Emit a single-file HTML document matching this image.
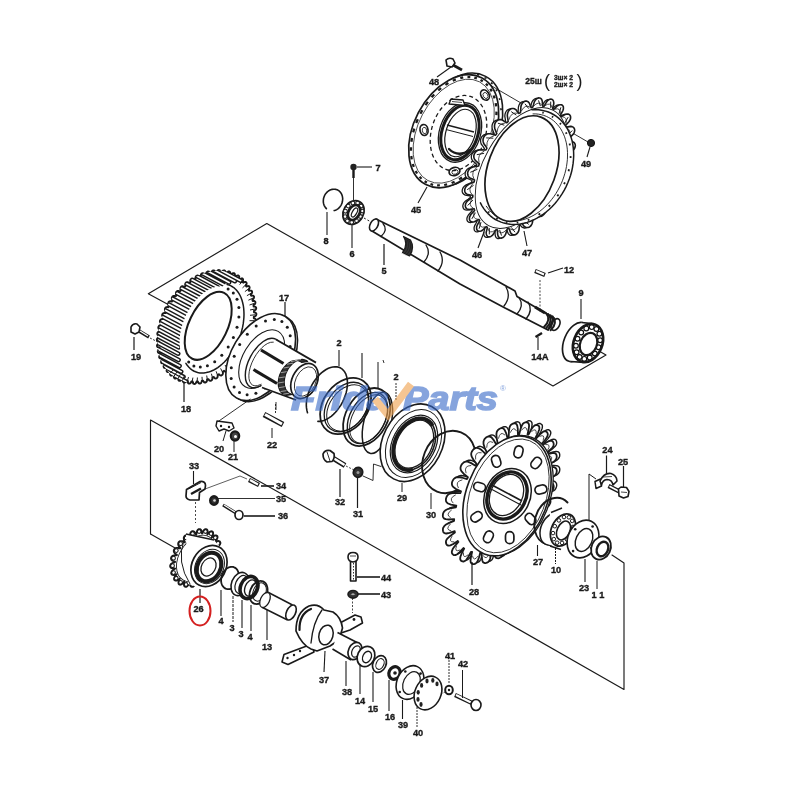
<!DOCTYPE html><html><head><meta charset="utf-8"><style>html,body{margin:0;padding:0;background:#fff}svg{display:block}text{font-family:"Liberation Sans",sans-serif}</style></head><body><div style="will-change:transform;width:800px;height:800px"><svg width="800" height="800" viewBox="0 0 800 800"><rect width="800" height="800" fill="#fff"/>
<polyline points="170.0,305.5 148.3,293.8 266.8,223.5 553.0,386.0 606.0,355.0 599.0,351.0" fill="none" stroke="#1a1a1a" stroke-width="1.15" stroke-linejoin="round" stroke-linecap="round"/>
<polyline points="150.5,534.0 150.5,420.0 291.5,499.5 624.0,689.5 624.0,563.0 612.0,555.0" fill="none" stroke="#1a1a1a" stroke-width="1.15" stroke-linejoin="round" stroke-linecap="round"/>
<line x1="150.5" y1="534.0" x2="176.0" y2="548.5" stroke="#1a1a1a" stroke-width="1.15"/>
<ellipse cx="457.7" cy="129.7" rx="39.9" ry="60.2" fill="#fff" stroke="#1a1a1a" stroke-width="1.6" transform="rotate(27.6 457.7 129.7)"/>
<line x1="477.0" y1="74.8" x2="479.2" y2="74.9" stroke="#1a1a1a" stroke-width="1.6"/>
<line x1="484.5" y1="77.7" x2="486.5" y2="78.2" stroke="#1a1a1a" stroke-width="1.6"/>
<line x1="490.9" y1="82.7" x2="492.6" y2="83.7" stroke="#1a1a1a" stroke-width="1.6"/>
<line x1="495.8" y1="89.7" x2="497.2" y2="91.0" stroke="#1a1a1a" stroke-width="1.6"/>
<line x1="499.1" y1="98.3" x2="500.1" y2="99.9" stroke="#1a1a1a" stroke-width="1.6"/>
<line x1="500.6" y1="108.3" x2="501.3" y2="110.1" stroke="#1a1a1a" stroke-width="1.6"/>
<line x1="500.4" y1="119.1" x2="500.7" y2="121.0" stroke="#1a1a1a" stroke-width="1.6"/>
<line x1="498.3" y1="130.4" x2="498.3" y2="132.3" stroke="#1a1a1a" stroke-width="1.6"/>
<line x1="494.5" y1="141.7" x2="494.1" y2="143.6" stroke="#1a1a1a" stroke-width="1.6"/>
<line x1="489.1" y1="152.5" x2="488.5" y2="154.3" stroke="#1a1a1a" stroke-width="1.6"/>
<line x1="482.4" y1="162.5" x2="481.5" y2="164.0" stroke="#1a1a1a" stroke-width="1.6"/>
<line x1="474.6" y1="171.1" x2="473.5" y2="172.4" stroke="#1a1a1a" stroke-width="1.6"/>
<line x1="466.0" y1="178.2" x2="464.9" y2="179.0" stroke="#1a1a1a" stroke-width="1.6"/>
<line x1="457.1" y1="183.3" x2="455.9" y2="183.7" stroke="#1a1a1a" stroke-width="1.6"/>
<ellipse cx="453.7" cy="131.2" rx="39.9" ry="60.2" fill="#fff" stroke="#1a1a1a" stroke-width="1.7" transform="rotate(27.6 453.7 131.2)"/>
<ellipse cx="453.7" cy="131.2" rx="35.4" ry="55.7" fill="none" stroke="#1a1a1a" stroke-width="0.7" transform="rotate(27.6 453.7 131.2)"/>
<line x1="487.0" y1="148.6" x2="485.1" y2="152.2" stroke="#1a1a1a" stroke-width="2.3"/>
<line x1="481.9" y1="157.3" x2="479.5" y2="160.5" stroke="#1a1a1a" stroke-width="2.3"/>
<line x1="475.8" y1="165.1" x2="473.2" y2="168.0" stroke="#1a1a1a" stroke-width="2.3"/>
<line x1="469.1" y1="171.9" x2="466.3" y2="174.3" stroke="#1a1a1a" stroke-width="2.3"/>
<line x1="462.0" y1="177.5" x2="459.0" y2="179.4" stroke="#1a1a1a" stroke-width="2.3"/>
<line x1="454.6" y1="181.7" x2="451.6" y2="183.0" stroke="#1a1a1a" stroke-width="2.3"/>
<line x1="447.1" y1="184.3" x2="444.2" y2="185.0" stroke="#1a1a1a" stroke-width="2.3"/>
<line x1="439.9" y1="185.4" x2="437.1" y2="185.3" stroke="#1a1a1a" stroke-width="2.3"/>
<line x1="433.1" y1="184.8" x2="430.5" y2="184.0" stroke="#1a1a1a" stroke-width="2.3"/>
<line x1="426.9" y1="182.5" x2="424.6" y2="181.2" stroke="#1a1a1a" stroke-width="2.3"/>
<line x1="421.5" y1="178.7" x2="419.6" y2="176.8" stroke="#1a1a1a" stroke-width="2.3"/>
<line x1="417.1" y1="173.5" x2="415.6" y2="171.0" stroke="#1a1a1a" stroke-width="2.3"/>
<line x1="413.8" y1="166.9" x2="412.8" y2="164.0" stroke="#1a1a1a" stroke-width="2.3"/>
<line x1="411.7" y1="159.3" x2="411.3" y2="156.0" stroke="#1a1a1a" stroke-width="2.3"/>
<line x1="410.9" y1="150.8" x2="411.0" y2="147.3" stroke="#1a1a1a" stroke-width="2.3"/>
<line x1="411.4" y1="141.8" x2="412.0" y2="138.0" stroke="#1a1a1a" stroke-width="2.3"/>
<line x1="413.2" y1="132.4" x2="414.3" y2="128.6" stroke="#1a1a1a" stroke-width="2.3"/>
<line x1="416.2" y1="123.0" x2="417.8" y2="119.2" stroke="#1a1a1a" stroke-width="2.3"/>
<line x1="420.4" y1="113.8" x2="422.3" y2="110.2" stroke="#1a1a1a" stroke-width="2.3"/>
<line x1="425.5" y1="105.1" x2="427.9" y2="101.9" stroke="#1a1a1a" stroke-width="2.3"/>
<line x1="431.6" y1="97.3" x2="434.2" y2="94.4" stroke="#1a1a1a" stroke-width="2.3"/>
<line x1="438.3" y1="90.5" x2="441.1" y2="88.1" stroke="#1a1a1a" stroke-width="2.3"/>
<line x1="445.4" y1="84.9" x2="448.4" y2="83.0" stroke="#1a1a1a" stroke-width="2.3"/>
<line x1="452.8" y1="80.7" x2="455.8" y2="79.4" stroke="#1a1a1a" stroke-width="2.3"/>
<line x1="460.3" y1="78.1" x2="463.2" y2="77.4" stroke="#1a1a1a" stroke-width="2.3"/>
<line x1="467.5" y1="77.0" x2="470.3" y2="77.1" stroke="#1a1a1a" stroke-width="2.3"/>
<line x1="474.3" y1="77.6" x2="476.9" y2="78.4" stroke="#1a1a1a" stroke-width="2.3"/>
<line x1="480.5" y1="79.9" x2="482.8" y2="81.2" stroke="#1a1a1a" stroke-width="2.3"/>
<line x1="485.9" y1="83.7" x2="487.8" y2="85.6" stroke="#1a1a1a" stroke-width="2.3"/>
<line x1="490.3" y1="88.9" x2="491.8" y2="91.4" stroke="#1a1a1a" stroke-width="2.3"/>
<line x1="493.6" y1="95.5" x2="494.6" y2="98.4" stroke="#1a1a1a" stroke-width="2.3"/>
<line x1="495.7" y1="103.1" x2="496.1" y2="106.4" stroke="#1a1a1a" stroke-width="2.3"/>
<line x1="496.5" y1="111.6" x2="496.4" y2="115.1" stroke="#1a1a1a" stroke-width="2.3"/>
<line x1="496.0" y1="120.6" x2="495.4" y2="124.4" stroke="#1a1a1a" stroke-width="2.3"/>
<line x1="494.2" y1="130.0" x2="493.1" y2="133.8" stroke="#1a1a1a" stroke-width="2.3"/>
<line x1="491.2" y1="139.4" x2="489.6" y2="143.2" stroke="#1a1a1a" stroke-width="2.3"/>
<ellipse cx="485.0" cy="95.0" rx="5.5" ry="4.0" fill="#fff" stroke="#1a1a1a" stroke-width="1.7" transform="rotate(60 485.0 95.0)"/>
<ellipse cx="485.5" cy="95.5" rx="3.2" ry="2.2" fill="none" stroke="#1a1a1a" stroke-width="0.8" transform="rotate(60 485.5 95.5)"/>
<ellipse cx="424.0" cy="130.0" rx="5.5" ry="4.0" fill="#fff" stroke="#1a1a1a" stroke-width="1.7" transform="rotate(80 424.0 130.0)"/>
<ellipse cx="424.5" cy="130.5" rx="3.2" ry="2.2" fill="none" stroke="#1a1a1a" stroke-width="0.8" transform="rotate(80 424.5 130.5)"/>
<ellipse cx="454.5" cy="171.5" rx="5.5" ry="4.0" fill="#fff" stroke="#1a1a1a" stroke-width="1.7" transform="rotate(-15 454.5 171.5)"/>
<ellipse cx="455.0" cy="172.0" rx="3.2" ry="2.2" fill="none" stroke="#1a1a1a" stroke-width="0.8" transform="rotate(-15 455.0 172.0)"/>
<ellipse cx="458.5" cy="133.0" rx="27.0" ry="38.5" fill="none" stroke="#1a1a1a" stroke-width="1.3" transform="rotate(18 458.5 133.0)" stroke-dasharray="4,3"/>
<ellipse cx="460.0" cy="132.5" rx="20.5" ry="30.5" fill="#fff" stroke="#1a1a1a" stroke-width="1.3" transform="rotate(18 460.0 132.5)"/>
<ellipse cx="460.0" cy="132.5" rx="18.0" ry="28.0" fill="#fff" stroke="#1a1a1a" stroke-width="3.0" transform="rotate(18 460.0 132.5)"/>
<ellipse cx="460.5" cy="133.0" rx="14.5" ry="24.5" fill="#fff" stroke="#1a1a1a" stroke-width="1.2" transform="rotate(18 460.5 133.0)"/>
<line x1="447.0" y1="125.0" x2="474.0" y2="132.0" stroke="#1a1a1a" stroke-width="1.3"/>
<line x1="446.0" y1="129.5" x2="473.0" y2="136.5" stroke="#1a1a1a" stroke-width="1.0"/>
<path d="M449,149 Q458,158 470,150" fill="none" stroke="#1a1a1a" stroke-width="2.4" stroke-linejoin="round" stroke-linecap="round"/>
<path d="M449,104 L451,99 L463,100 L465,105.5 Z" fill="#fff" stroke="#1a1a1a" stroke-width="1.4" stroke-linejoin="round" stroke-linecap="round"/>
<line x1="452.0" y1="101.5" x2="462.0" y2="102.5" stroke="#1a1a1a" stroke-width="0.8"/>
<path d="M446,60 Q449,57 453,59 L455,63 L452,67 L447,66 Z" fill="#fff" stroke="#1a1a1a" stroke-width="1.6" stroke-linejoin="round" stroke-linecap="round"/>
<line x1="453.0" y1="65.0" x2="462.0" y2="70.0" stroke="#1a1a1a" stroke-width="2.8"/>
<line x1="437.0" y1="77.0" x2="451.0" y2="67.0" stroke="#1a1a1a" stroke-width="1.1"/>
<text x="434.0" y="85.3" font-size="9.2" text-anchor="middle" font-weight="bold" fill="#1a1a1a" stroke="#1a1a1a" stroke-width="0.35">48</text>
<line x1="418.0" y1="203.0" x2="427.0" y2="187.0" stroke="#1a1a1a" stroke-width="1.1"/>
<text x="416.0" y="213.3" font-size="9.2" text-anchor="middle" font-weight="bold" fill="#1a1a1a" stroke="#1a1a1a" stroke-width="0.35">45</text>
<line x1="490.0" y1="85.0" x2="588.0" y2="142.0" stroke="#1a1a1a" stroke-width="0.9"/>
<polygon points="551.1,187.4 550.6,188.4 552.0,190.6 553.8,193.0 554.3,194.8 554.5,196.4 554.3,197.8 553.9,199.0 553.3,200.1 552.5,201.0 551.6,201.8 550.4,202.4 549.0,202.8 547.2,202.8 544.4,201.9 542.1,201.2 541.4,202.0 540.7,202.9 541.7,205.4 542.8,208.3 543.0,210.2 542.9,211.8 542.5,213.1 541.9,214.3 541.1,215.2 540.2,216.0 539.2,216.6 538.0,216.9 536.7,216.9 535.1,216.5 532.8,214.9 530.8,213.7 530.0,214.4 529.3,215.0 529.7,217.7 530.2,220.8 530.0,222.8 529.5,224.3 528.9,225.5 528.2,226.5 527.3,227.2 526.4,227.7 525.4,228.0 524.3,228.0 523.1,227.7 521.7,226.9 520.1,224.8 518.6,223.1 517.8,223.5 517.0,224.0 516.8,226.7 516.6,229.8 516.1,231.7 515.4,233.0 514.6,234.0 513.7,234.7 512.8,235.2 511.9,235.4 511.0,235.4 510.0,235.1 509.1,234.5 508.1,233.3 507.2,230.9 506.3,228.8 505.6,229.0 504.8,229.2 504.0,231.7 503.2,234.6 502.3,236.2 501.3,237.3 500.4,238.0 499.6,238.4 498.7,238.6 497.9,238.5 497.1,238.3 496.3,237.7 495.7,236.8 495.2,235.3 495.0,232.6 494.8,230.3 494.1,230.3 493.5,230.2 492.2,232.4 490.7,234.9 489.5,236.2 488.4,236.9 487.5,237.3 486.6,237.4 485.8,237.3 485.1,236.9 484.5,236.3 484.1,235.5 483.8,234.4 483.7,232.8 484.4,230.1 484.9,227.7 484.3,227.4 483.8,227.1 482.0,228.7 480.0,230.7 478.6,231.5 477.5,231.8 476.6,231.8 475.8,231.6 475.1,231.2 474.6,230.6 474.2,229.8 474.1,228.8 474.1,227.5 474.6,225.9 476.0,223.3 477.1,221.0 476.7,220.5 476.4,219.9 474.3,221.0 471.9,222.2 470.4,222.5 469.3,222.4 468.4,222.1 467.8,221.6 467.3,220.9 467.0,220.1 466.9,219.1 467.0,217.9 467.5,216.6 468.4,215.0 470.4,212.8 472.2,210.8 471.9,210.0 471.7,209.3 469.5,209.6 466.9,210.1 465.4,209.9 464.4,209.4 463.6,208.7 463.2,207.9 462.9,207.0 462.8,206.0 463.0,204.9 463.4,203.7 464.2,202.4 465.5,201.0 468.1,199.2 470.3,197.6 470.3,196.7 470.3,195.8 468.0,195.5 465.3,195.1 464.0,194.4 463.1,193.6 462.5,192.6 462.2,191.6 462.2,190.5 462.4,189.4 462.8,188.3 463.5,187.1 464.6,186.0 466.2,184.8 469.1,183.6 471.6,182.5 471.8,181.5 472.0,180.5 469.9,179.5 467.3,178.4 466.1,177.2 465.5,176.0 465.2,174.8 465.1,173.7 465.3,172.5 465.7,171.4 466.4,170.3 467.3,169.2 468.6,168.3 470.4,167.5 473.4,167.0 476.1,166.5 476.4,165.4 476.8,164.4 475.0,162.8 472.8,160.9 471.8,159.4 471.4,158.0 471.3,156.6 471.5,155.4 471.9,154.2 472.6,153.1 473.4,152.2 474.5,151.3 475.9,150.6 477.7,150.2 480.7,150.4 483.3,150.5 483.9,149.6 484.4,148.6 483.0,146.4 481.2,144.0 480.7,142.2 480.5,140.6 480.7,139.2 481.1,138.0 481.7,136.9 482.5,136.0 483.4,135.2 484.6,134.6 486.0,134.2 487.8,134.2 490.6,135.1 492.9,135.8 493.6,135.0 494.3,134.1 493.3,131.6 492.2,128.7 492.0,126.8 492.1,125.2 492.5,123.9 493.1,122.7 493.9,121.8 494.8,121.0 495.8,120.4 497.0,120.1 498.3,120.1 499.9,120.5 502.2,122.1 504.2,123.3 505.0,122.6 505.7,122.0 505.3,119.3 504.8,116.2 505.0,114.2 505.5,112.7 506.1,111.5 506.8,110.5 507.7,109.8 508.6,109.3 509.6,109.0 510.7,109.0 511.9,109.3 513.3,110.1 514.9,112.2 516.4,113.9 517.2,113.5 518.0,113.0 518.2,110.3 518.4,107.2 518.9,105.3 519.6,104.0 520.4,103.0 521.3,102.3 522.2,101.8 523.1,101.6 524.0,101.6 525.0,101.9 525.9,102.5 526.9,103.7 527.8,106.1 528.7,108.2 529.4,108.0 530.2,107.8 531.0,105.3 531.8,102.4 532.7,100.8 533.7,99.7 534.6,99.0 535.4,98.6 536.3,98.4 537.1,98.5 537.9,98.7 538.7,99.3 539.3,100.2 539.8,101.7 540.0,104.4 540.2,106.7 540.9,106.7 541.5,106.8 542.8,104.6 544.3,102.1 545.5,100.8 546.6,100.1 547.5,99.7 548.4,99.6 549.2,99.7 549.9,100.1 550.5,100.7 550.9,101.5 551.2,102.6 551.3,104.2 550.6,106.9 550.1,109.3 550.7,109.6 551.2,109.9 553.0,108.3 555.0,106.3 556.4,105.5 557.5,105.2 558.4,105.2 559.2,105.4 559.9,105.8 560.4,106.4 560.8,107.2 560.9,108.2 560.9,109.5 560.4,111.1 559.0,113.7 557.9,116.0 558.3,116.5 558.6,117.1 560.7,116.0 563.1,114.8 564.6,114.5 565.7,114.6 566.6,114.9 567.2,115.4 567.7,116.1 568.0,116.9 568.1,117.9 568.0,119.1 567.5,120.4 566.6,122.0 564.6,124.2 562.8,126.2 563.1,127.0 563.3,127.7 565.5,127.4 568.1,126.9 569.6,127.1 570.6,127.6 571.4,128.3 571.8,129.1 572.1,130.0 572.2,131.0 572.0,132.1 571.6,133.3 570.8,134.6 569.5,136.0 566.9,137.8 564.7,139.4 564.7,140.3 564.7,141.2 567.0,141.5 569.7,141.9 571.0,142.6 571.9,143.4 572.5,144.4 572.8,145.4 572.8,146.5 572.6,147.6 572.2,148.7 571.5,149.9 570.4,151.0 568.8,152.2 565.9,153.4 563.4,154.5 563.2,155.5 563.0,156.5 565.1,157.5 567.7,158.6 568.9,159.8 569.5,161.0 569.8,162.2 569.9,163.3 569.7,164.5 569.3,165.6 568.6,166.7 567.7,167.8 566.4,168.7 564.6,169.5 561.6,170.0 558.9,170.5 558.6,171.6 558.2,172.6 560.0,174.2 562.2,176.1 563.2,177.6 563.6,179.0 563.7,180.4 563.5,181.6 563.1,182.8 562.4,183.9 561.6,184.8 560.5,185.7 559.1,186.4 557.3,186.8 554.3,186.6 551.7,186.5 551.1,187.4" fill="#fff" stroke="#1a1a1a" stroke-width="1.3" stroke-linejoin="round" stroke-linecap="round"/>
<polygon points="553.6,186.9 553.1,187.9 554.5,190.1 556.3,192.5 556.8,194.3 557.0,195.9 556.8,197.3 556.4,198.5 555.8,199.6 555.0,200.5 554.1,201.3 552.9,201.9 551.5,202.3 549.7,202.3 546.9,201.4 544.6,200.7 543.9,201.5 543.2,202.4 544.2,204.9 545.3,207.8 545.5,209.7 545.4,211.3 545.0,212.6 544.4,213.8 543.6,214.7 542.7,215.5 541.7,216.1 540.5,216.4 539.2,216.4 537.6,216.0 535.3,214.4 533.3,213.2 532.5,213.9 531.8,214.5 532.2,217.2 532.7,220.3 532.5,222.3 532.0,223.8 531.4,225.0 530.7,226.0 529.8,226.7 528.9,227.2 527.9,227.5 526.8,227.5 525.6,227.2 524.2,226.4 522.6,224.3 521.1,222.6 520.3,223.0 519.5,223.5 519.3,226.2 519.1,229.3 518.6,231.2 517.9,232.5 517.1,233.5 516.2,234.2 515.3,234.7 514.4,234.9 513.5,234.9 512.5,234.6 511.6,234.0 510.6,232.8 509.7,230.4 508.8,228.3 508.1,228.5 507.3,228.7 506.5,231.2 505.7,234.1 504.8,235.7 503.8,236.8 502.9,237.5 502.1,237.9 501.2,238.1 500.4,238.0 499.6,237.8 498.8,237.2 498.2,236.3 497.7,234.8 497.5,232.1 497.3,229.8 496.6,229.8 496.0,229.7 494.7,231.9 493.2,234.4 492.0,235.7 490.9,236.4 490.0,236.8 489.1,236.9 488.3,236.8 487.6,236.4 487.0,235.8 486.6,235.0 486.3,233.9 486.2,232.3 486.9,229.6 487.4,227.2 486.8,226.9 486.3,226.6 484.5,228.2 482.5,230.2 481.1,231.0 480.0,231.3 479.1,231.3 478.3,231.1 477.6,230.7 477.1,230.1 476.7,229.3 476.6,228.3 476.6,227.0 477.1,225.4 478.5,222.8 479.6,220.5 479.2,220.0 478.9,219.4 476.8,220.5 474.4,221.7 472.9,222.0 471.8,221.9 470.9,221.6 470.3,221.1 469.8,220.4 469.5,219.6 469.4,218.6 469.5,217.4 470.0,216.1 470.9,214.5 472.9,212.3 474.7,210.3 474.4,209.5 474.2,208.8 472.0,209.1 469.4,209.6 467.9,209.4 466.9,208.9 466.1,208.2 465.7,207.4 465.4,206.5 465.3,205.5 465.5,204.4 465.9,203.2 466.7,201.9 468.0,200.5 470.6,198.7 472.8,197.1 472.8,196.2 472.8,195.3 470.5,195.0 467.8,194.6 466.5,193.9 465.6,193.1 465.0,192.1 464.7,191.1 464.7,190.0 464.9,188.9 465.3,187.8 466.0,186.6 467.1,185.5 468.7,184.3 471.6,183.1 474.1,182.0 474.3,181.0 474.5,180.0 472.4,179.0 469.8,177.9 468.6,176.7 468.0,175.5 467.7,174.3 467.6,173.2 467.8,172.0 468.2,170.9 468.9,169.8 469.8,168.7 471.1,167.8 472.9,167.0 475.9,166.5 478.6,166.0 478.9,164.9 479.3,163.9 477.5,162.3 475.3,160.4 474.3,158.9 473.9,157.5 473.8,156.1 474.0,154.9 474.4,153.7 475.1,152.6 475.9,151.7 477.0,150.8 478.4,150.1 480.2,149.7 483.2,149.9 485.8,150.0 486.4,149.1 486.9,148.1 485.5,145.9 483.7,143.5 483.2,141.7 483.0,140.1 483.2,138.7 483.6,137.5 484.2,136.4 485.0,135.5 485.9,134.7 487.1,134.1 488.5,133.7 490.3,133.7 493.1,134.6 495.4,135.3 496.1,134.5 496.8,133.6 495.8,131.1 494.7,128.2 494.5,126.3 494.6,124.7 495.0,123.4 495.6,122.2 496.4,121.3 497.3,120.5 498.3,119.9 499.5,119.6 500.8,119.6 502.4,120.0 504.7,121.6 506.7,122.8 507.5,122.1 508.2,121.5 507.8,118.8 507.3,115.7 507.5,113.7 508.0,112.2 508.6,111.0 509.3,110.0 510.2,109.3 511.1,108.8 512.1,108.5 513.2,108.5 514.4,108.8 515.8,109.6 517.4,111.7 518.9,113.4 519.7,113.0 520.5,112.5 520.7,109.8 520.9,106.7 521.4,104.8 522.1,103.5 522.9,102.5 523.8,101.8 524.7,101.3 525.6,101.1 526.5,101.1 527.5,101.4 528.4,102.0 529.4,103.2 530.3,105.6 531.2,107.7 531.9,107.5 532.7,107.3 533.5,104.8 534.3,101.9 535.2,100.3 536.2,99.2 537.1,98.5 537.9,98.1 538.8,97.9 539.6,98.0 540.4,98.2 541.2,98.8 541.8,99.7 542.3,101.2 542.5,103.9 542.7,106.2 543.4,106.2 544.0,106.3 545.3,104.1 546.8,101.6 548.0,100.3 549.1,99.6 550.0,99.2 550.9,99.1 551.7,99.2 552.4,99.6 553.0,100.2 553.4,101.0 553.7,102.1 553.8,103.7 553.1,106.4 552.6,108.8 553.2,109.1 553.7,109.4 555.5,107.8 557.5,105.8 558.9,105.0 560.0,104.7 560.9,104.7 561.7,104.9 562.4,105.3 562.9,105.9 563.3,106.7 563.4,107.7 563.4,109.0 562.9,110.6 561.5,113.2 560.4,115.5 560.8,116.0 561.1,116.6 563.2,115.5 565.6,114.3 567.1,114.0 568.2,114.1 569.1,114.4 569.7,114.9 570.2,115.6 570.5,116.4 570.6,117.4 570.5,118.6 570.0,119.9 569.1,121.5 567.1,123.7 565.3,125.7 565.6,126.5 565.8,127.2 568.0,126.9 570.6,126.4 572.1,126.6 573.1,127.1 573.9,127.8 574.3,128.6 574.6,129.5 574.7,130.5 574.5,131.6 574.1,132.8 573.3,134.1 572.0,135.5 569.4,137.3 567.2,138.9 567.2,139.8 567.2,140.7 569.5,141.0 572.2,141.4 573.5,142.1 574.4,142.9 575.0,143.9 575.3,144.9 575.3,146.0 575.1,147.1 574.7,148.2 574.0,149.4 572.9,150.5 571.3,151.7 568.4,152.9 565.9,154.0 565.7,155.0 565.5,156.0 567.6,157.0 570.2,158.1 571.4,159.3 572.0,160.5 572.3,161.7 572.4,162.8 572.2,164.0 571.8,165.1 571.1,166.2 570.2,167.3 568.9,168.2 567.1,169.0 564.1,169.5 561.4,170.0 561.1,171.1 560.7,172.1 562.5,173.7 564.7,175.6 565.7,177.1 566.1,178.5 566.2,179.9 566.0,181.1 565.6,182.3 564.9,183.4 564.1,184.3 563.0,185.2 561.6,185.9 559.8,186.3 556.8,186.1 554.2,186.0 553.6,186.9" fill="#fff" stroke="#1a1a1a" stroke-width="1.6" stroke-linejoin="round" stroke-linecap="round"/>
<line x1="553.8" y1="198.1" x2="546.7" y2="197.8" stroke="#1a1a1a" stroke-width="1.0"/>
<path d="M553.1,189.9 Q553.8,198.1 546.3,200.1" fill="none" stroke="#1a1a1a" stroke-width="0.8" stroke-linejoin="round" stroke-linecap="round"/>
<line x1="542.1" y1="212.8" x2="535.7" y2="210.8" stroke="#1a1a1a" stroke-width="1.0"/>
<path d="M542.9,204.4 Q542.1,212.8 534.9,213.0" fill="none" stroke="#1a1a1a" stroke-width="0.8" stroke-linejoin="round" stroke-linecap="round"/>
<line x1="528.8" y1="224.4" x2="523.7" y2="220.9" stroke="#1a1a1a" stroke-width="1.0"/>
<path d="M531.1,216.4 Q528.8,224.4 522.6,222.8" fill="none" stroke="#1a1a1a" stroke-width="0.8" stroke-linejoin="round" stroke-linecap="round"/>
<line x1="515.0" y1="232.2" x2="511.3" y2="227.4" stroke="#1a1a1a" stroke-width="1.0"/>
<path d="M518.6,225.1 Q515.0,232.2 510.0,228.9" fill="none" stroke="#1a1a1a" stroke-width="0.8" stroke-linejoin="round" stroke-linecap="round"/>
<line x1="501.5" y1="235.6" x2="499.6" y2="229.9" stroke="#1a1a1a" stroke-width="1.0"/>
<path d="M506.2,230.0 Q501.5,235.6 498.1,230.8" fill="none" stroke="#1a1a1a" stroke-width="0.8" stroke-linejoin="round" stroke-linecap="round"/>
<line x1="489.3" y1="234.4" x2="489.3" y2="228.1" stroke="#1a1a1a" stroke-width="1.0"/>
<path d="M494.7,230.6 Q489.3,234.4 487.8,228.5" fill="none" stroke="#1a1a1a" stroke-width="0.8" stroke-linejoin="round" stroke-linecap="round"/>
<line x1="479.1" y1="228.7" x2="481.0" y2="222.2" stroke="#1a1a1a" stroke-width="1.0"/>
<path d="M484.9,226.9 Q479.1,228.7 479.6,222.1" fill="none" stroke="#1a1a1a" stroke-width="0.8" stroke-linejoin="round" stroke-linecap="round"/>
<line x1="471.8" y1="218.9" x2="475.4" y2="212.7" stroke="#1a1a1a" stroke-width="1.0"/>
<path d="M477.6,219.3 Q471.8,218.9 474.2,211.9" fill="none" stroke="#1a1a1a" stroke-width="0.8" stroke-linejoin="round" stroke-linecap="round"/>
<line x1="467.7" y1="205.5" x2="472.9" y2="200.1" stroke="#1a1a1a" stroke-width="1.0"/>
<path d="M473.1,208.1 Q467.7,205.5 471.9,198.8" fill="none" stroke="#1a1a1a" stroke-width="0.8" stroke-linejoin="round" stroke-linecap="round"/>
<line x1="467.2" y1="189.7" x2="473.6" y2="185.3" stroke="#1a1a1a" stroke-width="1.0"/>
<path d="M471.8,194.2 Q467.2,189.7 472.8,183.6" fill="none" stroke="#1a1a1a" stroke-width="0.8" stroke-linejoin="round" stroke-linecap="round"/>
<line x1="470.3" y1="172.3" x2="477.4" y2="169.3" stroke="#1a1a1a" stroke-width="1.0"/>
<path d="M473.8,178.5 Q470.3,172.3 477.0,167.3" fill="none" stroke="#1a1a1a" stroke-width="0.8" stroke-linejoin="round" stroke-linecap="round"/>
<line x1="476.8" y1="154.7" x2="484.1" y2="153.3" stroke="#1a1a1a" stroke-width="1.0"/>
<path d="M479.0,162.1 Q476.8,154.7 484.2,151.0" fill="none" stroke="#1a1a1a" stroke-width="0.8" stroke-linejoin="round" stroke-linecap="round"/>
<line x1="486.2" y1="137.9" x2="493.3" y2="138.2" stroke="#1a1a1a" stroke-width="1.0"/>
<path d="M486.9,146.1 Q486.2,137.9 493.7,135.9" fill="none" stroke="#1a1a1a" stroke-width="0.8" stroke-linejoin="round" stroke-linecap="round"/>
<line x1="497.9" y1="123.2" x2="504.3" y2="125.2" stroke="#1a1a1a" stroke-width="1.0"/>
<path d="M497.1,131.6 Q497.9,123.2 505.1,123.0" fill="none" stroke="#1a1a1a" stroke-width="0.8" stroke-linejoin="round" stroke-linecap="round"/>
<line x1="511.2" y1="111.6" x2="516.3" y2="115.1" stroke="#1a1a1a" stroke-width="1.0"/>
<path d="M508.9,119.6 Q511.2,111.6 517.4,113.2" fill="none" stroke="#1a1a1a" stroke-width="0.8" stroke-linejoin="round" stroke-linecap="round"/>
<line x1="525.0" y1="103.8" x2="528.7" y2="108.6" stroke="#1a1a1a" stroke-width="1.0"/>
<path d="M521.4,110.9 Q525.0,103.8 530.0,107.1" fill="none" stroke="#1a1a1a" stroke-width="0.8" stroke-linejoin="round" stroke-linecap="round"/>
<line x1="538.5" y1="100.4" x2="540.4" y2="106.1" stroke="#1a1a1a" stroke-width="1.0"/>
<path d="M533.8,106.0 Q538.5,100.4 541.9,105.2" fill="none" stroke="#1a1a1a" stroke-width="0.8" stroke-linejoin="round" stroke-linecap="round"/>
<line x1="550.7" y1="101.6" x2="550.7" y2="107.9" stroke="#1a1a1a" stroke-width="1.0"/>
<path d="M545.3,105.4 Q550.7,101.6 552.2,107.5" fill="none" stroke="#1a1a1a" stroke-width="0.8" stroke-linejoin="round" stroke-linecap="round"/>
<line x1="560.9" y1="107.3" x2="559.0" y2="113.8" stroke="#1a1a1a" stroke-width="1.0"/>
<path d="M555.1,109.1 Q560.9,107.3 560.4,113.9" fill="none" stroke="#1a1a1a" stroke-width="0.8" stroke-linejoin="round" stroke-linecap="round"/>
<line x1="568.2" y1="117.1" x2="564.6" y2="123.3" stroke="#1a1a1a" stroke-width="1.0"/>
<path d="M562.4,116.7 Q568.2,117.1 565.8,124.1" fill="none" stroke="#1a1a1a" stroke-width="0.8" stroke-linejoin="round" stroke-linecap="round"/>
<line x1="572.3" y1="130.5" x2="567.1" y2="135.9" stroke="#1a1a1a" stroke-width="1.0"/>
<path d="M566.9,127.9 Q572.3,130.5 568.1,137.2" fill="none" stroke="#1a1a1a" stroke-width="0.8" stroke-linejoin="round" stroke-linecap="round"/>
<line x1="572.8" y1="146.3" x2="566.4" y2="150.7" stroke="#1a1a1a" stroke-width="1.0"/>
<path d="M568.2,141.8 Q572.8,146.3 567.2,152.4" fill="none" stroke="#1a1a1a" stroke-width="0.8" stroke-linejoin="round" stroke-linecap="round"/>
<line x1="569.7" y1="163.7" x2="562.6" y2="166.7" stroke="#1a1a1a" stroke-width="1.0"/>
<path d="M566.2,157.5 Q569.7,163.7 563.0,168.7" fill="none" stroke="#1a1a1a" stroke-width="0.8" stroke-linejoin="round" stroke-linecap="round"/>
<line x1="563.2" y1="181.3" x2="555.9" y2="182.7" stroke="#1a1a1a" stroke-width="1.0"/>
<path d="M561.0,173.9 Q563.2,181.3 555.8,185.0" fill="none" stroke="#1a1a1a" stroke-width="0.8" stroke-linejoin="round" stroke-linecap="round"/>
<ellipse cx="521.0" cy="168.0" rx="37.1" ry="66.1" fill="none" stroke="#1a1a1a" stroke-width="0.9" transform="rotate(29.4 521.0 168.0)"/>
<path d="M531.9,109.7 L535.2,109.6 L538.4,109.8 L541.6,110.2 L544.7,110.9 L547.7,111.8 L550.7,113.0 L553.4,114.5 L556.1,116.2 L558.6,118.1 L560.9,120.3 L563.1,122.7 L565.1,125.3 L566.9,128.0 L568.5,131.0 L569.9,134.2 L571.1,137.4 L572.1,140.9 L572.8,144.4 L573.3,148.1 L573.6,151.8 L573.7,155.6 L573.5,159.5 L573.1,163.4 L572.5,167.3 L571.7,171.3 L570.6,175.2 L569.3,179.0 L567.8,182.8 L566.1,186.6 L564.3,190.2 L562.2,193.7 L559.9,197.1 L557.5,200.4 L555.0,203.5 L552.2,206.5 L549.4,209.2 L546.4,211.8 L543.4,214.1 L540.2,216.2 L537.0,218.1 L533.7,219.8 L530.4,221.2 L527.1,222.4 L523.7,223.3 L520.3,223.9 L517.0,224.3 L513.7,224.4 L510.4,224.2 L507.2,223.8 L504.1,223.1 L501.1,222.1 L498.2,220.9 L495.4,219.5 L492.8,217.8 L490.3,215.8 L488.0,213.6 L485.8,211.2 L483.8,208.6 L482.0,205.8 L480.4,202.9 Z" fill="#fff" stroke="none"/>
<polyline points="531.9,109.7 535.2,109.6 538.4,109.8 541.6,110.2 544.7,110.9 547.7,111.8 550.7,113.0 553.4,114.5 556.1,116.2 558.6,118.1 560.9,120.3 563.1,122.7 565.1,125.3 566.9,128.0 568.5,131.0 569.9,134.2 571.1,137.4 572.1,140.9 572.8,144.4 573.3,148.1 573.6,151.8 573.7,155.6 573.5,159.5 573.1,163.4 572.5,167.3 571.7,171.3 570.6,175.2 569.3,179.0 567.8,182.8 566.1,186.6 564.3,190.2 562.2,193.7 559.9,197.1 557.5,200.4 555.0,203.5 552.2,206.5 549.4,209.2 546.4,211.8 543.4,214.1 540.2,216.2 537.0,218.1 533.7,219.8 530.4,221.2 527.1,222.4 523.7,223.3 520.3,223.9 517.0,224.3 513.7,224.4 510.4,224.2 507.2,223.8 504.1,223.1 501.1,222.1 498.2,220.9 495.4,219.5 492.8,217.8 490.3,215.8 488.0,213.6 485.8,211.2 483.8,208.6 482.0,205.8 480.4,202.9" fill="none" stroke="#1a1a1a" stroke-width="1.5" stroke-linejoin="round" stroke-linecap="round"/>
<polyline points="533.0,113.9 535.8,113.9 538.6,114.2 541.2,114.7 543.8,115.4 546.4,116.4 548.8,117.6 551.1,118.9 553.3,120.5 555.3,122.3 557.2,124.3 559.0,126.5 560.7,128.8 562.1,131.3 563.4,134.0 564.6,136.8 565.5,139.8 566.3,142.8 566.9,146.0 567.3,149.2 567.5,152.6 567.5,156.0 567.4,159.4 567.0,162.9 566.5,166.4 565.8,169.9 564.9,173.4 563.8,176.9 562.6,180.3 561.2,183.7 559.6,187.0 557.9,190.2 556.0,193.4 554.0,196.4 551.8,199.3 549.6,202.0 547.2,204.7 544.7,207.1 542.1,209.4 539.5,211.5 536.8,213.4 534.0,215.1 531.2,216.6 528.3,217.9 525.4,219.0 522.5,219.9 519.7,220.5 516.8,220.9 514.0,221.1 511.2,221.1 508.4,220.8 505.8,220.3 503.2,219.6 500.6,218.6 498.2,217.4 495.9,216.1 493.7,214.5 491.7,212.7 489.8,210.7 488.0,208.5 486.3,206.2" fill="none" stroke="#1a1a1a" stroke-width="0.9" stroke-linejoin="round" stroke-linecap="round"/>
<line x1="542.3" y1="112.6" x2="543.7" y2="112.9" stroke="#1a1a1a" stroke-width="1.8"/>
<line x1="551.9" y1="116.4" x2="553.2" y2="117.2" stroke="#1a1a1a" stroke-width="1.8"/>
<line x1="559.9" y1="123.1" x2="560.9" y2="124.3" stroke="#1a1a1a" stroke-width="1.8"/>
<line x1="565.9" y1="132.3" x2="566.6" y2="133.9" stroke="#1a1a1a" stroke-width="1.8"/>
<line x1="569.6" y1="143.5" x2="569.9" y2="145.3" stroke="#1a1a1a" stroke-width="1.8"/>
<line x1="570.6" y1="156.1" x2="570.6" y2="158.0" stroke="#1a1a1a" stroke-width="1.8"/>
<line x1="569.0" y1="169.2" x2="568.6" y2="171.2" stroke="#1a1a1a" stroke-width="1.8"/>
<line x1="564.9" y1="182.3" x2="564.1" y2="184.1" stroke="#1a1a1a" stroke-width="1.8"/>
<line x1="558.5" y1="194.5" x2="557.3" y2="196.1" stroke="#1a1a1a" stroke-width="1.8"/>
<line x1="550.1" y1="205.1" x2="548.7" y2="206.5" stroke="#1a1a1a" stroke-width="1.8"/>
<line x1="540.2" y1="213.6" x2="538.6" y2="214.7" stroke="#1a1a1a" stroke-width="1.8"/>
<line x1="529.4" y1="219.5" x2="527.8" y2="220.1" stroke="#1a1a1a" stroke-width="1.8"/>
<line x1="518.3" y1="222.4" x2="516.7" y2="222.6" stroke="#1a1a1a" stroke-width="1.8"/>
<line x1="507.5" y1="222.2" x2="506.0" y2="221.9" stroke="#1a1a1a" stroke-width="1.8"/>
<line x1="497.7" y1="218.9" x2="496.3" y2="218.1" stroke="#1a1a1a" stroke-width="1.8"/>
<line x1="489.3" y1="212.6" x2="488.3" y2="211.5" stroke="#1a1a1a" stroke-width="1.8"/>
<ellipse cx="522.0" cy="168.6" rx="33.9" ry="54.8" fill="#fff" stroke="#1a1a1a" stroke-width="1.7" transform="rotate(20.2 522.0 168.6)"/>
<circle cx="591" cy="143" r="3.6" fill="#222" stroke="#111" stroke-width="1"/>
<line x1="590.0" y1="147.0" x2="587.0" y2="157.0" stroke="#1a1a1a" stroke-width="1.1"/>
<text x="586.0" y="167.3" font-size="9.2" text-anchor="middle" font-weight="bold" fill="#1a1a1a" stroke="#1a1a1a" stroke-width="0.35">49</text>
<line x1="478.0" y1="248.0" x2="484.0" y2="232.0" stroke="#1a1a1a" stroke-width="1.1"/>
<text x="477.0" y="258.3" font-size="9.2" text-anchor="middle" font-weight="bold" fill="#1a1a1a" stroke="#1a1a1a" stroke-width="0.35">46</text>
<line x1="527.0" y1="246.0" x2="524.0" y2="231.0" stroke="#1a1a1a" stroke-width="1.1"/>
<text x="527.0" y="256.3" font-size="9.2" text-anchor="middle" font-weight="bold" fill="#1a1a1a" stroke="#1a1a1a" stroke-width="0.35">47</text>
<text x="533.5" y="84.0" font-size="8.5" text-anchor="middle" font-weight="bold" fill="#1a1a1a" stroke="#1a1a1a" stroke-width="0.35">25ш</text>
<text x="563.5" y="79.5" font-size="6.8" text-anchor="middle" font-weight="bold" fill="#1a1a1a" stroke="#1a1a1a" stroke-width="0.35">3ш× 2</text>
<text x="563.5" y="87.0" font-size="6.8" text-anchor="middle" font-weight="bold" fill="#1a1a1a" stroke="#1a1a1a" stroke-width="0.35">2ш× 2</text>
<text x="544" y="86.5" font-size="18" font-weight="normal" fill="#1a1a1a">(</text>
<text x="576.5" y="86.5" font-size="18" font-weight="normal" fill="#1a1a1a">)</text>
<circle cx="353.5" cy="167" r="3.2" fill="#222"/>
<line x1="353.5" y1="170.0" x2="353.5" y2="178.0" stroke="#1a1a1a" stroke-width="2.4"/>
<line x1="357.0" y1="167.0" x2="372.0" y2="167.0" stroke="#1a1a1a" stroke-width="1.1"/>
<text x="378.0" y="171.3" font-size="9.2" text-anchor="middle" font-weight="bold" fill="#1a1a1a" stroke="#1a1a1a" stroke-width="0.35">7</text>
<line x1="353.5" y1="178.0" x2="353.5" y2="200.0" stroke="#1a1a1a" stroke-width="0.9"/>
<ellipse cx="353.5" cy="212.5" rx="10.0" ry="12.5" fill="#fff" stroke="#1a1a1a" stroke-width="1.8" transform="rotate(30 353.5 212.5)"/>
<circle cx="360.4" cy="216.5" r="1.9" fill="#fff" stroke="#1a1a1a" stroke-width="1.1"/>
<circle cx="356.5" cy="220.7" r="1.9" fill="#fff" stroke="#1a1a1a" stroke-width="1.1"/>
<circle cx="351.7" cy="222.3" r="1.9" fill="#fff" stroke="#1a1a1a" stroke-width="1.1"/>
<circle cx="347.4" cy="220.8" r="1.9" fill="#fff" stroke="#1a1a1a" stroke-width="1.1"/>
<circle cx="345.1" cy="216.6" r="1.9" fill="#fff" stroke="#1a1a1a" stroke-width="1.1"/>
<circle cx="345.4" cy="211.2" r="1.9" fill="#fff" stroke="#1a1a1a" stroke-width="1.1"/>
<circle cx="348.3" cy="206.1" r="1.9" fill="#fff" stroke="#1a1a1a" stroke-width="1.1"/>
<circle cx="352.9" cy="203.1" r="1.9" fill="#fff" stroke="#1a1a1a" stroke-width="1.1"/>
<circle cx="357.6" cy="203.1" r="1.9" fill="#fff" stroke="#1a1a1a" stroke-width="1.1"/>
<circle cx="361.1" cy="206.0" r="1.9" fill="#fff" stroke="#1a1a1a" stroke-width="1.1"/>
<circle cx="362.1" cy="211.0" r="1.9" fill="#fff" stroke="#1a1a1a" stroke-width="1.1"/>
<ellipse cx="354.0" cy="212.5" rx="5.5" ry="8.0" fill="#fff" stroke="#1a1a1a" stroke-width="2.6" transform="rotate(30 354.0 212.5)"/>
<ellipse cx="354.5" cy="212.5" rx="2.2" ry="5.0" fill="#fff" stroke="#1a1a1a" stroke-width="1.2" transform="rotate(30 354.5 212.5)"/>
<line x1="352.0" y1="225.0" x2="352.0" y2="248.0" stroke="#1a1a1a" stroke-width="1.1"/>
<text x="352.0" y="257.3" font-size="9.2" text-anchor="middle" font-weight="bold" fill="#1a1a1a" stroke="#1a1a1a" stroke-width="0.35">6</text>
<polyline points="326.4,208.6 325.5,207.6 324.8,206.5 324.1,205.3 323.7,204.0 323.4,202.6 323.3,201.1 323.4,199.7 323.6,198.2 324.1,196.8 324.6,195.4 325.4,194.1 326.3,193.0 327.3,191.9 328.4,191.0 329.5,190.3 330.8,189.7 332.1,189.4 333.4,189.2 334.7,189.2 336.0,189.4 337.2,189.8 338.3,190.4 339.4,191.2 340.3,192.1 341.1,193.2 341.7,194.4 342.2,195.7 342.5,197.1 342.7,198.5 342.6,200.0 342.4,201.5 342.1,202.9 341.5,204.3 340.8,205.6 340.0,206.8 339.0,207.9 337.9,208.8 336.7,209.6 335.5,210.2 334.2,210.6" fill="none" stroke="#1a1a1a" stroke-width="1.6" stroke-linejoin="round" stroke-linecap="round"/>
<line x1="327.0" y1="212.0" x2="327.0" y2="235.0" stroke="#1a1a1a" stroke-width="1.1"/>
<text x="326.0" y="244.3" font-size="9.2" text-anchor="middle" font-weight="bold" fill="#1a1a1a" stroke="#1a1a1a" stroke-width="0.35">8</text>
<line x1="364.0" y1="218.0" x2="371.0" y2="222.0" stroke="#1a1a1a" stroke-width="1.0" stroke-dasharray="2,2"/>
<polygon points="376.0,219.0 460.0,260.0 515.0,291.0 517.0,296.5 554.0,318.0 548.0,330.0 505.0,308.0 460.0,284.0 372.0,231.0" fill="#fff" stroke="#1a1a1a" stroke-width="1.7" stroke-linejoin="round" stroke-linecap="round"/>
<ellipse cx="374.0" cy="225.0" rx="3.8" ry="6.5" fill="#fff" stroke="#1a1a1a" stroke-width="1.6" transform="rotate(28.5 374.0 225.0)"/>
<ellipse cx="555.5" cy="324.5" rx="4.0" ry="6.3" fill="#fff" stroke="#1a1a1a" stroke-width="1.6" transform="rotate(28.5 555.5 324.5)"/>
<path d="M383.0,223.5 Q388.5,230.0 381.0,236.5" fill="none" stroke="#1a1a1a" stroke-width="1.3" stroke-linejoin="round" stroke-linecap="round"/>
<path d="M426.0,245.0 Q431.5,253.5 424.0,262.0" fill="none" stroke="#1a1a1a" stroke-width="1.3" stroke-linejoin="round" stroke-linecap="round"/>
<path d="M440.0,252.0 Q445.5,261.5 438.0,271.0" fill="none" stroke="#1a1a1a" stroke-width="1.3" stroke-linejoin="round" stroke-linecap="round"/>
<path d="M506.0,287.0 Q511.5,296.5 504.0,306.0" fill="none" stroke="#1a1a1a" stroke-width="1.3" stroke-linejoin="round" stroke-linecap="round"/>
<path d="M519.0,297.5 Q524.5,305.8 517.0,314.0" fill="none" stroke="#1a1a1a" stroke-width="1.3" stroke-linejoin="round" stroke-linecap="round"/>
<path d="M528.0,302.0 Q533.5,310.5 526.0,319.0" fill="none" stroke="#1a1a1a" stroke-width="1.3" stroke-linejoin="round" stroke-linecap="round"/>
<path d="M403.5,236.5 Q408.5,244.5 402.5,252.5 L409.5,256 Q415,248 410.5,240 Z" fill="#333" stroke="#1a1a1a" stroke-width="1.2" stroke-linejoin="round" stroke-linecap="round"/>
<path d="M404.5,237.5 Q410.0,245.2 402.5,253.0" fill="none" stroke="#1a1a1a" stroke-width="0.7" stroke-linejoin="round" stroke-linecap="round"/>
<path d="M406.5,238.5 Q412.0,246.2 404.5,254.0" fill="none" stroke="#1a1a1a" stroke-width="0.7" stroke-linejoin="round" stroke-linecap="round"/>
<path d="M408.5,239.5 Q414.0,247.2 406.5,255.0" fill="none" stroke="#1a1a1a" stroke-width="0.7" stroke-linejoin="round" stroke-linecap="round"/>
<line x1="535.0" y1="307.0" x2="545.0" y2="313.0" stroke="#1a1a1a" stroke-width="3.0"/>
<path d="M546.0,313.0 Q551.5,320.0 544.0,327.0" fill="none" stroke="#1a1a1a" stroke-width="2.0" stroke-linejoin="round" stroke-linecap="round"/>
<path d="M548.2,314.1 Q553.7,321.1 546.2,328.1" fill="none" stroke="#1a1a1a" stroke-width="2.0" stroke-linejoin="round" stroke-linecap="round"/>
<path d="M550.4,315.2 Q555.9,322.2 548.4,329.2" fill="none" stroke="#1a1a1a" stroke-width="2.0" stroke-linejoin="round" stroke-linecap="round"/>
<path d="M552.6,316.3 Q558.1,323.3 550.6,330.3" fill="none" stroke="#1a1a1a" stroke-width="2.0" stroke-linejoin="round" stroke-linecap="round"/>
<line x1="384.0" y1="244.0" x2="384.0" y2="265.0" stroke="#1a1a1a" stroke-width="1.2"/>
<text x="384.0" y="274.3" font-size="9.2" text-anchor="middle" font-weight="bold" fill="#1a1a1a" stroke="#1a1a1a" stroke-width="0.35">5</text>
<line x1="535.0" y1="271.0" x2="545.0" y2="275.0" stroke="#1a1a1a" stroke-width="4.2"/>
<line x1="536.0" y1="271.0" x2="544.0" y2="274.5" stroke="#fff" stroke-width="2.0"/>
<line x1="548.0" y1="273.0" x2="563.0" y2="268.0" stroke="#1a1a1a" stroke-width="1.1"/>
<text x="569.0" y="273.3" font-size="9.2" text-anchor="middle" font-weight="bold" fill="#1a1a1a" stroke="#1a1a1a" stroke-width="0.35">12</text>
<line x1="540.0" y1="280.0" x2="540.0" y2="312.0" stroke="#1a1a1a" stroke-width="0.8" stroke-dasharray="2,1.5"/>
<line x1="535.5" y1="337.0" x2="542.0" y2="333.0" stroke="#1a1a1a" stroke-width="2.4"/>
<line x1="538.0" y1="337.0" x2="538.0" y2="350.0" stroke="#1a1a1a" stroke-width="1.1"/>
<text x="540.0" y="360.4" font-size="9.5" text-anchor="middle" font-weight="bold" fill="#1a1a1a" stroke="#1a1a1a" stroke-width="0.35">14A</text>
<line x1="581.0" y1="299.0" x2="581.0" y2="319.0" stroke="#1a1a1a" stroke-width="1.1"/>
<text x="581.0" y="296.3" font-size="9.2" text-anchor="middle" font-weight="bold" fill="#1a1a1a" stroke="#1a1a1a" stroke-width="0.35">9</text>
<ellipse cx="576.0" cy="342.0" rx="12.0" ry="20.5" fill="#fff" stroke="#1a1a1a" stroke-width="1.7" transform="rotate(22 576.0 342.0)"/>
<polygon points="570.4,361.5 583.7,362.3 592.3,323.7 581.6,322.5" fill="#fff" stroke="none" stroke-width="0" stroke-linejoin="round" stroke-linecap="round"/>
<line x1="570.4" y1="361.5" x2="583.7" y2="362.3" stroke="#1a1a1a" stroke-width="1.7"/>
<line x1="581.6" y1="322.5" x2="592.3" y2="323.7" stroke="#1a1a1a" stroke-width="1.7"/>
<ellipse cx="588.0" cy="343.0" rx="14.5" ry="20.0" fill="#fff" stroke="#1a1a1a" stroke-width="2.2" transform="rotate(22 588.0 343.0)"/>
<circle cx="598.5" cy="347.2" r="2.4" fill="#fff" stroke="#111" stroke-width="1.2"/>
<circle cx="594.8" cy="353.5" r="2.4" fill="#fff" stroke="#111" stroke-width="1.2"/>
<circle cx="589.7" cy="357.6" r="2.4" fill="#fff" stroke="#111" stroke-width="1.2"/>
<circle cx="584.3" cy="358.9" r="2.4" fill="#fff" stroke="#111" stroke-width="1.2"/>
<circle cx="579.6" cy="357.0" r="2.4" fill="#fff" stroke="#111" stroke-width="1.2"/>
<circle cx="576.6" cy="352.3" r="2.4" fill="#fff" stroke="#111" stroke-width="1.2"/>
<circle cx="575.9" cy="345.8" r="2.4" fill="#fff" stroke="#111" stroke-width="1.2"/>
<circle cx="577.5" cy="338.8" r="2.4" fill="#fff" stroke="#111" stroke-width="1.2"/>
<circle cx="581.2" cy="332.5" r="2.4" fill="#fff" stroke="#111" stroke-width="1.2"/>
<circle cx="586.3" cy="328.4" r="2.4" fill="#fff" stroke="#111" stroke-width="1.2"/>
<circle cx="591.7" cy="327.1" r="2.4" fill="#fff" stroke="#111" stroke-width="1.2"/>
<circle cx="596.4" cy="329.0" r="2.4" fill="#fff" stroke="#111" stroke-width="1.2"/>
<circle cx="599.4" cy="333.7" r="2.4" fill="#fff" stroke="#111" stroke-width="1.2"/>
<circle cx="600.1" cy="340.2" r="2.4" fill="#fff" stroke="#111" stroke-width="1.2"/>
<ellipse cx="588.0" cy="343.0" rx="13.5" ry="19.0" fill="none" stroke="#1a1a1a" stroke-width="1.0" transform="rotate(22 588.0 343.0)"/>
<ellipse cx="588.5" cy="344.0" rx="8.3" ry="11.5" fill="#fff" stroke="#1a1a1a" stroke-width="2.2" transform="rotate(22 588.5 344.0)"/>
<path d="M131,327 Q133,323 137,324 L140,327 L139,332 L135,334 L131,332 Z" fill="#fff" stroke="#1a1a1a" stroke-width="1.6" stroke-linejoin="round" stroke-linecap="round"/>
<line x1="139.0" y1="331.0" x2="149.0" y2="337.0" stroke="#1a1a1a" stroke-width="3.4"/>
<line x1="140.0" y1="331.0" x2="148.0" y2="336.0" stroke="#fff" stroke-width="1.2"/>
<line x1="150.0" y1="338.0" x2="158.0" y2="342.0" stroke="#1a1a1a" stroke-width="0.9" stroke-dasharray="2,1.5"/>
<line x1="134.0" y1="337.0" x2="134.0" y2="350.0" stroke="#1a1a1a" stroke-width="1.2"/>
<text x="136.0" y="360.3" font-size="9.2" text-anchor="middle" font-weight="bold" fill="#1a1a1a" stroke="#1a1a1a" stroke-width="0.35">19</text>
<clipPath id="g18"><ellipse cx="206.6" cy="327" rx="44.6" ry="59.7" transform="rotate(30.7 206.6 327)"/></clipPath>
<polygon points="245.0,349.8 245.1,350.3 245.1,350.8 244.9,351.2 244.8,351.6 244.5,352.0 244.2,352.3 243.8,352.5 243.2,352.7 242.5,352.7 241.4,352.4 241.2,352.7 240.9,353.1 240.7,353.4 240.5,353.7 241.1,354.7 241.4,355.4 241.4,356.0 241.3,356.4 241.2,356.9 240.9,357.2 240.7,357.5 240.3,357.8 239.9,358.0 239.4,358.1 238.7,358.0 237.6,357.6 237.3,358.0 237.1,358.3 236.8,358.6 236.6,358.9 237.1,360.0 237.3,360.7 237.2,361.2 237.1,361.7 236.9,362.1 236.7,362.4 236.4,362.7 236.0,362.9 235.6,363.1 235.1,363.1 234.4,363.0 233.4,362.5 233.1,362.8 232.8,363.1 232.5,363.4 232.3,363.7 232.7,364.8 232.8,365.5 232.7,366.1 232.6,366.5 232.3,366.9 232.1,367.2 231.7,367.5 231.4,367.6 230.9,367.7 230.4,367.7 229.8,367.5 228.8,366.9 228.5,367.2 228.2,367.4 227.9,367.7 227.6,368.0 227.9,369.1 228.0,369.9 227.9,370.4 227.7,370.8 227.4,371.2 227.1,371.5 226.8,371.7 226.4,371.8 226.0,371.9 225.5,371.8 224.8,371.5 224.0,370.8 223.7,371.1 223.4,371.3 223.1,371.5 222.8,371.7 222.9,372.9 222.9,373.7 222.7,374.2 222.5,374.6 222.2,374.9 221.9,375.2 221.5,375.4 221.2,375.5 220.7,375.5 220.3,375.3 219.7,375.0 218.9,374.2 218.6,374.4 218.3,374.6 218.0,374.8 217.7,375.0 217.7,376.1 217.6,376.9 217.4,377.4 217.1,377.8 216.8,378.1 216.5,378.3 216.1,378.4 215.8,378.5 215.4,378.4 214.9,378.3 214.4,377.8 213.7,377.0 213.4,377.1 213.1,377.3 212.8,377.4 212.4,377.6 212.4,378.8 212.2,379.5 211.9,380.0 211.6,380.3 211.3,380.6 211.0,380.7 210.6,380.8 210.2,380.8 209.9,380.7 209.4,380.5 209.0,380.1 208.5,379.1 208.1,379.2 207.8,379.3 207.5,379.4 207.1,379.5 206.9,380.7 206.7,381.4 206.4,381.9 206.1,382.2 205.7,382.4 205.4,382.5 205.0,382.6 204.7,382.5 204.3,382.4 203.9,382.1 203.6,381.6 203.1,380.6 202.8,380.7 202.5,380.7 202.1,380.8 201.8,380.9 201.5,382.0 201.2,382.7 200.9,383.1 200.5,383.3 200.2,383.5 199.8,383.6 199.5,383.6 199.1,383.5 198.8,383.3 198.5,383.0 198.2,382.5 197.9,381.4 197.5,381.4 197.2,381.5 196.9,381.5 196.6,381.5 196.2,382.6 195.8,383.2 195.4,383.6 195.0,383.8 194.7,383.9 194.4,384.0 194.0,383.9 193.7,383.8 193.4,383.6 193.1,383.2 192.9,382.6 192.7,381.5 192.4,381.5 192.1,381.5 191.8,381.5 191.4,381.5 190.9,382.5 190.5,383.1 190.1,383.4 189.7,383.5 189.4,383.6 189.0,383.6 188.7,383.5 188.4,383.4 188.1,383.1 187.9,382.7 187.7,382.1 187.7,381.0 187.4,380.9 187.1,380.9 186.8,380.8 186.5,380.7 185.9,381.7 185.4,382.2 185.0,382.4 184.6,382.6 184.2,382.6 183.9,382.5 183.6,382.4 183.4,382.2 183.1,381.9 182.9,381.5 182.9,380.8 183.0,379.7 182.7,379.6 182.4,379.5 182.1,379.4 181.8,379.3 181.1,380.2 180.6,380.6 180.1,380.8 179.8,380.9 179.4,380.9 179.1,380.8 178.8,380.6 178.6,380.4 178.4,380.0 178.3,379.6 178.3,378.9 178.5,377.8 178.3,377.7 178.0,377.6 177.7,377.4 177.5,377.3 176.7,378.0 176.1,378.4 175.6,378.5 175.3,378.6 174.9,378.5 174.6,378.4 174.4,378.1 174.2,377.9 174.0,377.5 174.0,377.0 174.1,376.4 174.4,375.3 174.2,375.1 173.9,374.9 173.7,374.8 173.5,374.6 172.6,375.2 172.0,375.5 171.5,375.6 171.1,375.6 170.8,375.5 170.6,375.3 170.3,375.0 170.2,374.7 170.1,374.3 170.1,373.9 170.2,373.2 170.7,372.1 170.5,371.9 170.3,371.7 170.1,371.5 169.9,371.3 168.9,371.8 168.3,372.0 167.8,372.0 167.5,372.0 167.2,371.8 166.9,371.6 166.8,371.3 166.6,371.0 166.6,370.6 166.6,370.1 166.9,369.4 167.5,368.4 167.3,368.2 167.1,367.9 166.9,367.7 166.7,367.4 165.7,367.9 165.1,368.0 164.7,367.9 164.3,367.8 164.0,367.6 163.8,367.3 163.7,367.0 163.6,366.7 163.6,366.3 163.7,365.8 164.0,365.1 164.7,364.2 164.6,363.9 164.4,363.6 164.3,363.3 164.1,363.1 163.1,363.4 162.4,363.4 162.0,363.3 161.7,363.1 161.4,362.9 161.2,362.6 161.1,362.2 161.1,361.9 161.1,361.4 161.3,361.0 161.7,360.3 162.5,359.5 162.4,359.2 162.3,358.9 162.1,358.6 162.0,358.3 161.0,358.4 160.3,358.4 159.9,358.2 159.6,358.0 159.4,357.7 159.2,357.4 159.2,357.0 159.2,356.6 159.3,356.2 159.5,355.7 159.9,355.1 160.8,354.4 160.7,354.0 160.7,353.7 160.6,353.4 160.5,353.0 159.4,353.1 158.8,353.0 158.4,352.7 158.1,352.5 157.9,352.1 157.8,351.8 157.8,351.4 157.8,351.0 158.0,350.6 158.2,350.1 158.8,349.6 159.7,348.9 159.7,348.6 159.6,348.2 159.6,347.9 159.6,347.5 158.5,347.4 157.9,347.2 157.5,346.9 157.2,346.6 157.1,346.3 157.0,345.9 157.0,345.5 157.1,345.1 157.3,344.7 157.6,344.2 158.2,343.8 159.2,343.2 159.2,342.8 159.2,342.5 159.2,342.1 159.2,341.7 158.1,341.5 157.5,341.2 157.2,340.9 157.0,340.5 156.9,340.1 156.8,339.8 156.9,339.4 157.0,339.0 157.2,338.6 157.6,338.1 158.2,337.7 159.3,337.3 159.4,336.9 159.4,336.5 159.4,336.1 159.4,335.7 158.4,335.4 157.8,335.0 157.5,334.6 157.4,334.3 157.3,333.9 157.3,333.5 157.4,333.1 157.5,332.7 157.8,332.3 158.2,331.9 158.9,331.5 160.0,331.2 160.1,330.8 160.1,330.4 160.2,330.0 160.3,329.7 159.3,329.2 158.7,328.8 158.5,328.3 158.3,327.9 158.3,327.5 158.4,327.1 158.5,326.7 158.7,326.3 159.0,325.9 159.4,325.6 160.1,325.3 161.3,325.1 161.4,324.7 161.5,324.3 161.6,323.9 161.7,323.5 160.7,323.0 160.3,322.4 160.0,322.0 159.9,321.5 159.9,321.1 160.0,320.7 160.2,320.3 160.4,320.0 160.8,319.6 161.2,319.3 161.9,319.1 163.1,319.0 163.3,318.6 163.4,318.2 163.5,317.8 163.7,317.5 162.8,316.8 162.4,316.2 162.2,315.7 162.1,315.2 162.2,314.8 162.3,314.4 162.5,314.0 162.8,313.7 163.1,313.4 163.6,313.1 164.3,313.0 165.5,313.0 165.7,312.6 165.8,312.2 166.0,311.9 166.2,311.5 165.4,310.7 165.0,310.1 164.9,309.6 164.9,309.1 164.9,308.7 165.1,308.3 165.3,307.9 165.6,307.6 166.0,307.3 166.5,307.1 167.3,307.0 168.4,307.2 168.6,306.8 168.8,306.5 169.0,306.1 169.2,305.7 168.5,304.9 168.2,304.2 168.1,303.7 168.1,303.2 168.3,302.8 168.4,302.4 168.7,302.0 169.0,301.7 169.4,301.5 170.0,301.3 170.7,301.3 171.8,301.6 172.0,301.3 172.3,300.9 172.5,300.6 172.7,300.3 172.1,299.3 171.8,298.6 171.8,298.0 171.9,297.6 172.0,297.1 172.3,296.8 172.5,296.5 172.9,296.2 173.3,296.0 173.8,295.9 174.5,296.0 175.6,296.4 175.9,296.0 176.1,295.7 176.4,295.4 176.6,295.1 176.1,294.0 175.9,293.3 176.0,292.8 176.1,292.3 176.3,291.9 176.5,291.6 176.8,291.3 177.2,291.1 177.6,290.9 178.1,290.9 178.8,291.0 179.8,291.5 180.1,291.2 180.4,290.9 180.7,290.6 180.9,290.3 180.5,289.2 180.4,288.5 180.5,287.9 180.6,287.5 180.9,287.1 181.1,286.8 181.5,286.5 181.8,286.4 182.3,286.3 182.8,286.3 183.4,286.5 184.4,287.1 184.7,286.8 185.0,286.6 185.3,286.3 185.6,286.0 185.3,284.9 185.2,284.1 185.3,283.6 185.5,283.2 185.8,282.8 186.1,282.5 186.4,282.3 186.8,282.2 187.2,282.1 187.7,282.2 188.4,282.5 189.2,283.2 189.5,282.9 189.8,282.7 190.1,282.5 190.4,282.3 190.3,281.1 190.3,280.3 190.5,279.8 190.7,279.4 191.0,279.1 191.3,278.8 191.7,278.6 192.0,278.5 192.5,278.5 192.9,278.7 193.5,279.0 194.3,279.8 194.6,279.6 194.9,279.4 195.2,279.2 195.5,279.0 195.5,277.9 195.6,277.1 195.8,276.6 196.1,276.2 196.4,275.9 196.7,275.7 197.1,275.6 197.4,275.5 197.8,275.6 198.3,275.7 198.8,276.2 199.5,277.0 199.8,276.9 200.1,276.7 200.4,276.6 200.8,276.4 200.8,275.2 201.0,274.5 201.3,274.0 201.6,273.7 201.9,273.4 202.2,273.3 202.6,273.2 203.0,273.2 203.3,273.3 203.8,273.5 204.2,273.9 204.7,274.9 205.1,274.8 205.4,274.7 205.7,274.6 206.1,274.5 206.3,273.3 206.5,272.6 206.8,272.1 207.1,271.8 207.5,271.6 207.8,271.5 208.2,271.4 208.5,271.5 208.9,271.6 209.3,271.9 209.6,272.4 210.1,273.4 210.4,273.3 210.7,273.3 211.1,273.2 211.4,273.1 211.7,272.0 212.0,271.3 212.3,270.9 212.7,270.7 213.0,270.5 213.4,270.4 213.7,270.4 214.1,270.5 214.4,270.7 214.7,271.0 215.0,271.5 215.3,272.6 215.7,272.6 216.0,272.5 216.3,272.5 216.6,272.5 217.0,271.4 217.4,270.8 217.8,270.4 218.2,270.2 218.5,270.1 218.8,270.0 219.2,270.1 219.5,270.2 219.8,270.4 220.1,270.8 220.3,271.4 220.5,272.5 220.8,272.5 221.1,272.5 221.4,272.5 221.8,272.5 222.3,271.5 222.7,270.9 223.1,270.6 223.5,270.5 223.8,270.4 224.2,270.4 224.5,270.5 224.8,270.6 225.1,270.9 225.3,271.3 225.5,271.9 225.5,273.0 225.8,273.1 226.1,273.1 226.4,273.2 226.7,273.3 227.3,272.3 227.8,271.8 228.2,271.6 228.6,271.4 229.0,271.4 229.3,271.5 229.6,271.6 229.8,271.8 230.1,272.1 230.3,272.5 230.3,273.2 230.2,274.3 230.5,274.4 230.8,274.5 231.1,274.6 231.4,274.7 232.1,273.8 232.6,273.4 233.1,273.2 233.4,273.1 233.8,273.1 234.1,273.2 234.4,273.4 234.6,273.6 234.8,274.0 234.9,274.4 234.9,275.1 234.7,276.2 234.9,276.3 235.2,276.4 235.5,276.6 235.7,276.7 236.5,276.0 237.1,275.6 237.6,275.5 237.9,275.4 238.3,275.5 238.6,275.6 238.8,275.9 239.0,276.1 239.2,276.5 239.2,277.0 239.1,277.6 238.8,278.7 239.0,278.9 239.3,279.1 239.5,279.2 239.7,279.4 240.6,278.8 241.2,278.5 241.7,278.4 242.1,278.4 242.4,278.5 242.6,278.7 242.9,279.0 243.0,279.3 243.1,279.7 243.1,280.1 243.0,280.8 242.5,281.9 242.7,282.1 242.9,282.3 243.1,282.5 243.3,282.7 244.3,282.2 244.9,282.0 245.4,282.0 245.7,282.0 246.0,282.2 246.3,282.4 246.4,282.7 246.6,283.0 246.6,283.4 246.6,283.9 246.3,284.6 245.7,285.6 245.9,285.8 246.1,286.1 246.3,286.3 246.5,286.6 247.5,286.1 248.1,286.0 248.5,286.1 248.9,286.2 249.2,286.4 249.4,286.7 249.5,287.0 249.6,287.3 249.6,287.7 249.5,288.2 249.2,288.9 248.5,289.8 248.6,290.1 248.8,290.4 248.9,290.7 249.1,290.9 250.1,290.6 250.8,290.6 251.2,290.7 251.5,290.9 251.8,291.1 252.0,291.4 252.1,291.8 252.1,292.1 252.1,292.6 251.9,293.0 251.5,293.7 250.7,294.5 250.8,294.8 250.9,295.1 251.1,295.4 251.2,295.7 252.2,295.6 252.9,295.6 253.3,295.8 253.6,296.0 253.8,296.3 254.0,296.6 254.0,297.0 254.0,297.4 253.9,297.8 253.7,298.3 253.3,298.9 252.4,299.6 252.5,300.0 252.5,300.3 252.6,300.6 252.7,301.0 253.8,300.9 254.4,301.0 254.8,301.3 255.1,301.5 255.3,301.9 255.4,302.2 255.4,302.6 255.4,303.0 255.2,303.4 255.0,303.9 254.4,304.4 253.5,305.1 253.5,305.4 253.6,305.8 253.6,306.1 253.6,306.5 254.7,306.6 255.3,306.8 255.7,307.1 256.0,307.4 256.1,307.7 256.2,308.1 256.2,308.5 256.1,308.9 255.9,309.3 255.6,309.8 255.0,310.2 254.0,310.8 254.0,311.2 254.0,311.5 254.0,311.9 254.0,312.3 255.1,312.5 255.7,312.8 256.0,313.1 256.2,313.5 256.3,313.9 256.4,314.2 256.3,314.6 256.2,315.0 256.0,315.4 255.6,315.9 255.0,316.3 253.9,316.7 253.8,317.1 253.8,317.5 253.8,317.9 253.8,318.3 254.8,318.6 255.4,319.0 255.7,319.4 255.8,319.7 255.9,320.1 255.9,320.5 255.8,320.9 255.7,321.3 255.4,321.7 255.0,322.1 254.3,322.5 253.2,322.8 253.1,323.2 253.1,323.6 253.0,324.0 252.9,324.3 253.9,324.8 254.5,325.2 254.7,325.7 254.9,326.1 254.9,326.5 254.8,326.9 254.7,327.3 254.5,327.7 254.2,328.1 253.8,328.4 253.1,328.7 251.9,328.9 251.8,329.3 251.7,329.7 251.6,330.1 251.5,330.5 252.5,331.0 252.9,331.6 253.2,332.0 253.3,332.5 253.3,332.9 253.2,333.3 253.0,333.7 252.8,334.0 252.4,334.4 252.0,334.7 251.3,334.9 250.1,335.0 249.9,335.4 249.8,335.8 249.7,336.2 249.5,336.5 250.4,337.2 250.8,337.8 251.0,338.3 251.1,338.8 251.0,339.2 250.9,339.6 250.7,340.0 250.4,340.3 250.1,340.6 249.6,340.9 248.9,341.0 247.7,341.0 247.5,341.4 247.4,341.8 247.2,342.1 247.0,342.5 247.8,343.3 248.2,343.9 248.3,344.4 248.3,344.9 248.3,345.3 248.1,345.7 247.9,346.1 247.6,346.4 247.2,346.7 246.7,346.9 245.9,347.0 244.8,346.8 244.6,347.2 244.4,347.5 244.2,347.9 244.0,348.3 244.7,349.1 245.0,349.8" fill="#fff" stroke="#1a1a1a" stroke-width="1.9" stroke-linejoin="round" stroke-linecap="round"/>
<path d="M163.3,369.5 L186.3,381.7 M160.5,364.7 L183.5,376.9 M158.3,359.4 L181.2,371.7 M156.6,353.8 L179.6,366.0 M155.6,347.8 L178.6,360.0 M155.2,341.5 L178.2,353.7 M155.5,335.1 L178.5,347.3 M156.4,328.5 L179.4,340.8 M158.0,322.0 L180.9,334.2 M160.1,315.5 L183.1,327.7 M162.9,309.1 L185.8,321.3 M166.2,303.0 L189.1,315.2 M170.0,297.2 L192.9,309.4 M174.3,291.7 L197.2,303.9 M178.9,286.7 L201.9,298.9 M183.9,282.2 L206.9,294.4 M189.2,278.3 L212.2,290.5 M194.8,274.9 L217.7,287.2 M200.4,272.3 L223.4,284.5 M206.2,270.3 L229.1,282.5 M211.9,269.0 L234.9,281.2 M217.6,268.5 L240.6,280.7" stroke="#1a1a1a" stroke-width="4.6" stroke-linecap="round" fill="none" clip-path="url(#g18)"/>
<path d="M163.3,369.5 L186.3,381.7 M160.5,364.7 L183.5,376.9 M158.3,359.4 L181.2,371.7 M156.6,353.8 L179.6,366.0 M155.6,347.8 L178.6,360.0 M155.2,341.5 L178.2,353.7 M155.5,335.1 L178.5,347.3 M156.4,328.5 L179.4,340.8 M158.0,322.0 L180.9,334.2 M160.1,315.5 L183.1,327.7 M162.9,309.1 L185.8,321.3 M166.2,303.0 L189.1,315.2 M170.0,297.2 L192.9,309.4 M174.3,291.7 L197.2,303.9 M178.9,286.7 L201.9,298.9 M183.9,282.2 L206.9,294.4 M189.2,278.3 L212.2,290.5 M194.8,274.9 L217.7,287.2 M200.4,272.3 L223.4,284.5 M206.2,270.3 L229.1,282.5 M211.9,269.0 L234.9,281.2 M217.6,268.5 L240.6,280.7" stroke="#fff" stroke-width="1.7" stroke-linecap="round" fill="none" clip-path="url(#g18)"/>
<polygon points="224.6,284.1 227.2,284.5 229.7,285.3 232.0,286.5 234.2,288.0 236.2,289.8 238.0,292.0 239.6,294.5 241.0,297.3 242.1,300.3 242.9,303.6 243.5,307.1 243.9,310.7 244.0,314.6 243.8,318.5 243.4,322.5 242.7,326.6 241.7,330.6 240.5,334.7 239.1,338.7 237.5,342.6 235.6,346.4 233.5,350.1 231.3,353.6 228.9,356.8 226.4,359.9 223.7,362.6 221.0,365.1 218.2,367.3 215.3,369.1 212.4,370.6 209.6,371.8 206.7,372.5 203.9,373.0 201.2,373.0 198.5,372.7 196.0,372.0 193.6,370.9 191.4,369.5 189.3,367.7 187.5,365.6 183.5,357.7 182.3,355.6 181.3,353.2 180.6,350.7 180.0,347.9 179.7,345.0 179.6,341.9 179.6,338.8 180.0,335.5 180.5,332.1 181.2,328.7 182.2,325.3 183.3,321.9 184.6,318.5 186.1,315.1 187.8,311.9 189.7,308.7 191.6,305.7 193.7,302.8 195.9,300.2 198.2,297.7 200.6,295.4 203.1,293.3 205.5,291.5 208.0,290.0 210.5,288.7 213.0,287.7 215.4,287.0 217.8,286.6 220.1,286.5 222.4,286.7" fill="#fff" stroke="none" stroke-width="0" stroke-linejoin="round" stroke-linecap="round"/>
<polyline points="227.1,284.5 229.1,285.1 231.0,285.9 232.8,287.0 234.5,288.2 236.1,289.7 237.6,291.5 238.9,293.4 240.1,295.5 241.1,297.7 242.0,300.2 242.7,302.8 243.3,305.5 243.7,308.4 243.9,311.3 244.0,314.4 243.9,317.5 243.6,320.7 243.2,323.9 242.6,327.2 241.8,330.4 240.9,333.7 239.8,336.9 238.6,340.1 237.2,343.2 235.7,346.3 234.1,349.2 232.3,352.0 230.5,354.7 228.5,357.3 226.5,359.7 224.4,362.0 222.2,364.0 220.0,365.9 217.8,367.6 215.5,369.0 213.2,370.3 210.9,371.3 208.6,372.1 206.3,372.6 204.0,372.9 201.8,373.0 199.7,372.9 197.6,372.5 195.6,371.8 193.7,371.0 191.9,369.9 190.2,368.6 188.7,367.0 187.2,365.3 185.9,363.3" fill="none" stroke="#1a1a1a" stroke-width="1.5" stroke-linejoin="round" stroke-linecap="round"/>
<line x1="242.9" y1="280.9" x2="239.6" y2="284.6" stroke="#1a1a1a" stroke-width="1.0" clip-path="url(#g18)"/>
<line x1="246.1" y1="284.5" x2="242.5" y2="287.9" stroke="#1a1a1a" stroke-width="1.0" clip-path="url(#g18)"/>
<line x1="248.9" y1="288.6" x2="244.9" y2="291.6" stroke="#1a1a1a" stroke-width="1.0" clip-path="url(#g18)"/>
<line x1="251.2" y1="293.2" x2="246.9" y2="295.7" stroke="#1a1a1a" stroke-width="1.0" clip-path="url(#g18)"/>
<line x1="253.0" y1="298.1" x2="248.4" y2="300.2" stroke="#1a1a1a" stroke-width="1.0" clip-path="url(#g18)"/>
<line x1="254.2" y1="303.4" x2="249.5" y2="305.0" stroke="#1a1a1a" stroke-width="1.0" clip-path="url(#g18)"/>
<line x1="254.9" y1="309.0" x2="250.0" y2="310.0" stroke="#1a1a1a" stroke-width="1.0" clip-path="url(#g18)"/>
<line x1="255.0" y1="314.8" x2="250.0" y2="315.3" stroke="#1a1a1a" stroke-width="1.0" clip-path="url(#g18)"/>
<line x1="254.5" y1="320.7" x2="249.5" y2="320.7" stroke="#1a1a1a" stroke-width="1.0" clip-path="url(#g18)"/>
<line x1="253.5" y1="326.7" x2="248.5" y2="326.1" stroke="#1a1a1a" stroke-width="1.0" clip-path="url(#g18)"/>
<line x1="251.9" y1="332.7" x2="247.0" y2="331.6" stroke="#1a1a1a" stroke-width="1.0" clip-path="url(#g18)"/>
<line x1="249.8" y1="338.7" x2="245.0" y2="337.0" stroke="#1a1a1a" stroke-width="1.0" clip-path="url(#g18)"/>
<line x1="247.2" y1="344.5" x2="242.6" y2="342.3" stroke="#1a1a1a" stroke-width="1.0" clip-path="url(#g18)"/>
<line x1="244.1" y1="350.1" x2="239.8" y2="347.5" stroke="#1a1a1a" stroke-width="1.0" clip-path="url(#g18)"/>
<line x1="240.5" y1="355.4" x2="236.6" y2="352.4" stroke="#1a1a1a" stroke-width="1.0" clip-path="url(#g18)"/>
<line x1="236.6" y1="360.4" x2="233.0" y2="356.9" stroke="#1a1a1a" stroke-width="1.0" clip-path="url(#g18)"/>
<line x1="232.3" y1="365.0" x2="229.1" y2="361.2" stroke="#1a1a1a" stroke-width="1.0" clip-path="url(#g18)"/>
<line x1="227.7" y1="369.2" x2="225.0" y2="365.0" stroke="#1a1a1a" stroke-width="1.0" clip-path="url(#g18)"/>
<line x1="222.9" y1="372.8" x2="220.6" y2="368.4" stroke="#1a1a1a" stroke-width="1.0" clip-path="url(#g18)"/>
<line x1="217.9" y1="376.0" x2="216.1" y2="371.3" stroke="#1a1a1a" stroke-width="1.0" clip-path="url(#g18)"/>
<line x1="212.7" y1="378.5" x2="211.4" y2="373.7" stroke="#1a1a1a" stroke-width="1.0" clip-path="url(#g18)"/>
<line x1="207.5" y1="380.5" x2="206.7" y2="375.5" stroke="#1a1a1a" stroke-width="1.0" clip-path="url(#g18)"/>
<line x1="202.3" y1="381.8" x2="202.0" y2="376.8" stroke="#1a1a1a" stroke-width="1.0" clip-path="url(#g18)"/>
<line x1="197.1" y1="382.5" x2="197.4" y2="377.5" stroke="#1a1a1a" stroke-width="1.0" clip-path="url(#g18)"/>
<line x1="192.0" y1="382.5" x2="192.9" y2="377.6" stroke="#1a1a1a" stroke-width="1.0" clip-path="url(#g18)"/>
<line x1="187.1" y1="381.9" x2="188.5" y2="377.1" stroke="#1a1a1a" stroke-width="1.0" clip-path="url(#g18)"/>
<line x1="182.4" y1="380.6" x2="184.3" y2="376.0" stroke="#1a1a1a" stroke-width="1.0" clip-path="url(#g18)"/>
<line x1="178.0" y1="378.7" x2="180.4" y2="374.3" stroke="#1a1a1a" stroke-width="1.0" clip-path="url(#g18)"/>
<line x1="174.0" y1="376.2" x2="176.8" y2="372.1" stroke="#1a1a1a" stroke-width="1.0" clip-path="url(#g18)"/>
<line x1="170.3" y1="373.1" x2="173.6" y2="369.4" stroke="#1a1a1a" stroke-width="1.0" clip-path="url(#g18)"/>
<circle cx="233.4" cy="337.5" r="1.5" fill="#1a1a1a"/>
<circle cx="228.2" cy="347.1" r="1.5" fill="#1a1a1a"/>
<circle cx="221.8" cy="355.3" r="1.5" fill="#1a1a1a"/>
<circle cx="214.7" cy="361.7" r="1.5" fill="#1a1a1a"/>
<circle cx="207.4" cy="365.7" r="1.5" fill="#1a1a1a"/>
<circle cx="200.3" cy="367.1" r="1.5" fill="#1a1a1a"/>
<circle cx="193.9" cy="365.9" r="1.5" fill="#1a1a1a"/>
<circle cx="188.7" cy="362.0" r="1.5" fill="#1a1a1a"/>
<circle cx="228.1" cy="289.1" r="1.5" fill="#1a1a1a"/>
<circle cx="233.3" cy="293.0" r="1.5" fill="#1a1a1a"/>
<circle cx="237.0" cy="299.3" r="1.5" fill="#1a1a1a"/>
<circle cx="238.9" cy="307.4" r="1.5" fill="#1a1a1a"/>
<circle cx="238.9" cy="316.9" r="1.5" fill="#1a1a1a"/>
<circle cx="237.0" cy="327.2" r="1.5" fill="#1a1a1a"/>
<ellipse cx="208.2" cy="325.8" rx="19.2" ry="36.6" fill="#fff" stroke="#1a1a1a" stroke-width="2.0" transform="rotate(25.8 208.2 325.8)"/>
<line x1="184.0" y1="383.0" x2="184.0" y2="402.0" stroke="#1a1a1a" stroke-width="1.2"/>
<text x="186.0" y="412.3" font-size="9.2" text-anchor="middle" font-weight="bold" fill="#1a1a1a" stroke="#1a1a1a" stroke-width="0.35">18</text>
<ellipse cx="262.7" cy="358.1" rx="29.1" ry="47.5" fill="#fff" stroke="#1a1a1a" stroke-width="1.5" transform="rotate(30.8 262.7 358.1)"/>
<ellipse cx="260.7" cy="357.1" rx="29.1" ry="47.5" fill="#fff" stroke="#1a1a1a" stroke-width="1.6" transform="rotate(30.8 260.7 357.1)"/>
<circle cx="281.7" cy="369.6" r="1.5" fill="#1a1a1a"/>
<circle cx="274.1" cy="380.0" r="1.5" fill="#1a1a1a"/>
<circle cx="265.2" cy="388.1" r="1.5" fill="#1a1a1a"/>
<circle cx="255.9" cy="393.2" r="1.5" fill="#1a1a1a"/>
<circle cx="247.1" cy="394.7" r="1.5" fill="#1a1a1a"/>
<circle cx="239.5" cy="392.6" r="1.5" fill="#1a1a1a"/>
<circle cx="234.1" cy="387.0" r="1.5" fill="#1a1a1a"/>
<circle cx="231.2" cy="378.5" r="1.5" fill="#1a1a1a"/>
<circle cx="231.3" cy="367.8" r="1.5" fill="#1a1a1a"/>
<circle cx="234.2" cy="356.2" r="1.5" fill="#1a1a1a"/>
<circle cx="239.7" cy="344.6" r="1.5" fill="#1a1a1a"/>
<circle cx="247.3" cy="334.2" r="1.5" fill="#1a1a1a"/>
<circle cx="256.2" cy="326.1" r="1.5" fill="#1a1a1a"/>
<circle cx="265.5" cy="321.0" r="1.5" fill="#1a1a1a"/>
<circle cx="274.3" cy="319.5" r="1.5" fill="#1a1a1a"/>
<circle cx="281.9" cy="321.6" r="1.5" fill="#1a1a1a"/>
<circle cx="287.3" cy="327.2" r="1.5" fill="#1a1a1a"/>
<circle cx="290.2" cy="335.7" r="1.5" fill="#1a1a1a"/>
<circle cx="290.1" cy="346.4" r="1.5" fill="#1a1a1a"/>
<circle cx="287.2" cy="358.0" r="1.5" fill="#1a1a1a"/>
<ellipse cx="261.7" cy="359.1" rx="18.6" ry="32.3" fill="none" stroke="#1a1a1a" stroke-width="1.1" transform="rotate(30.8 261.7 359.1)"/>
<ellipse cx="263.0" cy="363.0" rx="14.0" ry="27.0" fill="#fff" stroke="#1a1a1a" stroke-width="1.4" transform="rotate(28 263.0 363.0)"/>
<ellipse cx="264.0" cy="364.0" rx="11.5" ry="24.0" fill="none" stroke="#1a1a1a" stroke-width="0.8" transform="rotate(28 264.0 364.0)"/>
<polygon points="276.0,339.5 316.0,362.6 318.0,380.0 306.0,400.0 292.0,400.0 262.0,388.0 258.0,362.0" fill="#fff" stroke="none" stroke-width="0" stroke-linejoin="round" stroke-linecap="round"/>
<line x1="276.0" y1="339.5" x2="316.0" y2="362.6" stroke="#1a1a1a" stroke-width="1.8"/>
<line x1="262.0" y1="387.5" x2="296.0" y2="400.0" stroke="#1a1a1a" stroke-width="1.7"/>
<line x1="261.0" y1="350.0" x2="283.5" y2="363.5" stroke="#1a1a1a" stroke-width="3.2"/>
<line x1="253.5" y1="369.5" x2="277.0" y2="383.5" stroke="#1a1a1a" stroke-width="3.2"/>
<polygon points="286.3,395.4 284.9,395.0 283.5,394.4 282.3,393.6 281.3,392.5 280.3,391.3 279.6,389.9 279.0,388.3 278.5,386.6 278.3,384.7 278.2,382.8 278.4,380.8 278.7,378.8 279.2,376.7 279.8,374.7 280.7,372.7 281.7,370.8 282.8,369.0 284.0,367.3 285.4,365.8 286.8,364.4 288.3,363.2 289.9,362.2 291.5,361.4 293.1,360.8 294.7,360.5 296.2,360.4 297.7,360.6 299.1,361.0 300.5,361.6 301.7,362.4 307.7,361.4 306.5,360.6 305.1,360.0 303.7,359.6 302.2,359.4 300.7,359.5 299.1,359.8 297.5,360.4 295.9,361.2 294.3,362.2 292.8,363.4 291.4,364.8 290.0,366.3 288.8,368.0 287.7,369.8 286.7,371.7 285.8,373.7 285.2,375.7 284.7,377.8 284.4,379.8 284.2,381.8 284.3,383.7 284.5,385.6 285.0,387.3 285.6,388.9 286.3,390.3 287.3,391.5 288.3,392.6 289.5,393.4 290.9,394.0 292.3,394.4" fill="#333" stroke="#1a1a1a" stroke-width="1.2" stroke-linejoin="round" stroke-linecap="round"/>
<line x1="283.2" y1="394.2" x2="289.2" y2="393.2" stroke="#bbb" stroke-width="0.8"/>
<line x1="280.5" y1="391.6" x2="286.5" y2="390.6" stroke="#bbb" stroke-width="0.8"/>
<line x1="278.8" y1="387.7" x2="284.8" y2="386.7" stroke="#bbb" stroke-width="0.8"/>
<line x1="278.2" y1="383.0" x2="284.2" y2="382.0" stroke="#bbb" stroke-width="0.8"/>
<line x1="278.9" y1="377.9" x2="284.9" y2="376.9" stroke="#bbb" stroke-width="0.8"/>
<line x1="280.7" y1="372.7" x2="286.7" y2="371.7" stroke="#bbb" stroke-width="0.8"/>
<line x1="283.5" y1="368.0" x2="289.5" y2="367.0" stroke="#bbb" stroke-width="0.8"/>
<line x1="287.0" y1="364.2" x2="293.0" y2="363.2" stroke="#bbb" stroke-width="0.8"/>
<line x1="290.9" y1="361.6" x2="296.9" y2="360.6" stroke="#bbb" stroke-width="0.8"/>
<line x1="295.0" y1="360.5" x2="301.0" y2="359.5" stroke="#bbb" stroke-width="0.8"/>
<ellipse cx="304.5" cy="381.0" rx="12.5" ry="18.5" fill="#fff" stroke="#1a1a1a" stroke-width="1.7" transform="rotate(25 304.5 381.0)"/>
<ellipse cx="305.5" cy="381.5" rx="10.0" ry="15.5" fill="none" stroke="#1a1a1a" stroke-width="0.8" transform="rotate(25 305.5 381.5)"/>
<line x1="285.0" y1="302.0" x2="285.0" y2="316.0" stroke="#1a1a1a" stroke-width="1.2"/>
<text x="284.0" y="301.3" font-size="9.2" text-anchor="middle" font-weight="bold" fill="#1a1a1a" stroke="#1a1a1a" stroke-width="0.35">17</text>
<line x1="276.0" y1="402.0" x2="276.0" y2="410.0" stroke="#1a1a1a" stroke-width="0.9"/>
<line x1="339.0" y1="350.0" x2="339.0" y2="366.0" stroke="#1a1a1a" stroke-width="1.1"/>
<text x="339.0" y="346.3" font-size="9.2" text-anchor="middle" font-weight="bold" fill="#1a1a1a" stroke="#1a1a1a" stroke-width="0.35">2</text>
<line x1="362.0" y1="353.0" x2="362.0" y2="378.0" stroke="#1a1a1a" stroke-width="1.1"/>
<line x1="378.0" y1="362.0" x2="378.0" y2="388.0" stroke="#1a1a1a" stroke-width="1.0"/>
<line x1="383.0" y1="360.0" x2="384.0" y2="363.0" stroke="#1a1a1a" stroke-width="0.9"/>
<line x1="396.0" y1="383.0" x2="396.0" y2="400.0" stroke="#1a1a1a" stroke-width="0.9" stroke-dasharray="2,1"/>
<text x="396.0" y="380.3" font-size="9.2" text-anchor="middle" font-weight="bold" fill="#1a1a1a" stroke="#1a1a1a" stroke-width="0.35">2</text>
<polyline points="307.5,412.7 306.9,410.4 306.5,407.9 306.3,405.3 306.4,402.5 306.8,399.5 307.4,396.6 308.2,393.6 309.3,390.6 310.6,387.6 312.1,384.7 313.7,382.0 315.5,379.4 317.5,376.9 319.5,374.7 321.7,372.7 323.9,371.0 326.1,369.5 328.4,368.3 330.7,367.5 332.8,367.0 335.0,366.8 337.0,366.9 338.9,367.3 340.7,368.1 342.3,369.2 343.7,370.6 344.9,372.3 345.9,374.2 346.6,376.4 347.1,378.8 347.4,381.4 347.4,384.1 347.2,387.0 346.8,389.9 346.1,392.9 345.1,395.9 344.0,398.9 342.6,401.8 341.1,404.7 339.3,407.4 337.5,409.9 335.5,412.3 333.4,414.4 331.2,416.3 328.9,417.9 326.7,419.2 324.4,420.3 322.2,421.0 320.0,421.4 317.9,421.4" fill="none" stroke="#1a1a1a" stroke-width="1.6" stroke-linejoin="round" stroke-linecap="round"/>
<ellipse cx="345.6" cy="406.0" rx="22.3" ry="30.6" fill="none" stroke="#1a1a1a" stroke-width="1.8" transform="rotate(36.2 345.6 406.0)"/>
<ellipse cx="346.5" cy="407.0" rx="19.2" ry="27.2" fill="none" stroke="#1a1a1a" stroke-width="1.3" transform="rotate(36.2 346.5 407.0)"/>
<ellipse cx="347.5" cy="408.0" rx="17.8" ry="25.5" fill="none" stroke="#1a1a1a" stroke-width="1.0" transform="rotate(36.2 347.5 408.0)"/>
<ellipse cx="366.7" cy="417.1" rx="20.9" ry="31.0" fill="none" stroke="#1a1a1a" stroke-width="1.8" transform="rotate(28.6 366.7 417.1)"/>
<ellipse cx="367.5" cy="418.0" rx="17.5" ry="27.5" fill="none" stroke="#1a1a1a" stroke-width="1.4" transform="rotate(28.6 367.5 418.0)"/>
<ellipse cx="368.5" cy="419.0" rx="16.2" ry="26.0" fill="none" stroke="#1a1a1a" stroke-width="0.9" transform="rotate(28.6 368.5 419.0)"/>
<ellipse cx="377.4" cy="422.9" rx="13.6" ry="31.3" fill="none" stroke="#1a1a1a" stroke-width="1.5" transform="rotate(13.8 377.4 422.9)"/>
<ellipse cx="412.6" cy="442.7" rx="29.7" ry="40.9" fill="#fff" stroke="#1a1a1a" stroke-width="1.6" transform="rotate(27.7 412.6 442.7)"/>
<ellipse cx="413.5" cy="443.5" rx="25.5" ry="36.0" fill="none" stroke="#1a1a1a" stroke-width="1.0" transform="rotate(27.7 413.5 443.5)"/>
<ellipse cx="414.0" cy="444.0" rx="21.5" ry="30.5" fill="#fff" stroke="#1a1a1a" stroke-width="1.2" transform="rotate(27.7 414.0 444.0)"/>
<ellipse cx="414.3" cy="444.2" rx="17.4" ry="25.4" fill="#fff" stroke="#1a1a1a" stroke-width="1.3" transform="rotate(27.3 414.3 444.2)"/>
<polyline points="411.8,469.8 409.7,470.1 407.7,470.1 405.7,469.9 403.8,469.5 402.0,468.8 400.3,467.8 398.8,466.6 397.4,465.2 396.2,463.6 395.2,461.7 394.3,459.7 393.7,457.6 393.3,455.3 393.1,452.9 393.1,450.4 393.3,447.8 393.7,445.2 394.4,442.6 395.2,440.0 396.2,437.5 397.4,435.0 398.8,432.6 400.4,430.4 402.0,428.2 403.8,426.3 405.7,424.5 407.7,422.9 409.8,421.5 411.9,420.4 414.0,419.5 416.1,418.8 418.2,418.4 420.3,418.2 422.3,418.4 424.3,418.7 426.1,419.4 427.8,420.3 429.4,421.4 430.8,422.7 432.1,424.3" fill="none" stroke="#1a1a1a" stroke-width="3.6" stroke-linejoin="round" stroke-linecap="round"/>
<polyline points="432.1,424.3 433.3,426.3 434.2,428.6 434.9,431.0 435.4,433.6 435.5,436.4 435.4,439.2 435.1,442.2 434.4,445.1 433.5,448.0 432.4,450.9 431.0,453.7 429.4,456.4 427.6,458.9 425.6,461.2 423.5,463.3 421.3,465.2 419.0,466.8 416.6,468.1 414.2,469.1 411.8,469.8" fill="none" stroke="#1a1a1a" stroke-width="1.6" stroke-linejoin="round" stroke-linecap="round"/>
<ellipse cx="449.0" cy="462.0" rx="26.0" ry="32.0" fill="none" stroke="#1a1a1a" stroke-width="1.9" transform="rotate(22 449.0 462.0)"/>
<line x1="402.0" y1="483.0" x2="402.0" y2="492.0" stroke="#1a1a1a" stroke-width="1.0"/>
<text x="402.0" y="501.3" font-size="9.2" text-anchor="middle" font-weight="bold" fill="#1a1a1a" stroke="#1a1a1a" stroke-width="0.35">29</text>
<line x1="431.0" y1="493.0" x2="431.0" y2="509.0" stroke="#1a1a1a" stroke-width="1.0"/>
<text x="431.0" y="518.3" font-size="9.2" text-anchor="middle" font-weight="bold" fill="#1a1a1a" stroke="#1a1a1a" stroke-width="0.35">30</text>
<polygon points="542.0,515.5 542.1,517.0 541.9,518.2 541.5,519.3 540.9,520.4 540.2,521.3 539.3,522.1 538.3,522.8 536.9,523.2 535.0,523.2 531.9,522.0 527.1,519.2 526.5,520.0 525.9,520.8 529.3,525.4 531.0,528.5 531.4,530.4 531.3,531.9 530.8,533.2 530.2,534.2 529.5,535.1 528.7,535.9 527.8,536.5 526.7,537.0 525.4,537.1 523.7,536.6 521.0,534.8 517.1,531.0 516.4,531.6 515.7,532.3 518.1,537.6 519.1,541.0 519.1,543.1 518.7,544.5 518.1,545.7 517.4,546.5 516.6,547.3 515.7,547.9 514.8,548.3 513.7,548.5 512.5,548.3 511.1,547.5 509.1,545.1 506.3,540.4 505.6,540.9 504.9,541.4 506.0,547.2 506.2,550.8 505.9,552.7 505.3,554.1 504.5,555.0 503.7,555.7 502.9,556.2 502.0,556.6 501.1,556.8 500.1,556.7 499.1,556.3 498.0,555.1 496.7,552.3 495.2,547.1 494.6,547.4 493.9,547.7 493.7,553.6 493.2,557.0 492.5,558.9 491.7,560.0 490.8,560.7 490.0,561.2 489.2,561.4 488.3,561.6 487.5,561.5 486.7,561.2 485.9,560.5 485.3,559.0 484.8,556.0 484.7,550.5 484.0,550.6 483.4,550.7 481.9,556.3 480.7,559.5 479.7,561.1 478.7,561.9 477.8,562.4 477.0,562.6 476.2,562.6 475.5,562.5 474.8,562.2 474.2,561.6 473.7,560.7 473.5,559.1 473.9,555.9 475.1,550.5 474.6,550.4 474.1,550.3 471.4,555.3 469.5,558.1 468.2,559.3 467.2,559.8 466.3,560.0 465.5,559.9 464.9,559.6 464.2,559.3 463.7,558.7 463.3,558.0 463.2,556.9 463.4,555.2 464.6,552.1 467.2,547.1 466.8,546.8 466.4,546.5 462.6,550.6 460.2,552.7 458.8,553.5 457.7,553.7 456.9,553.6 456.2,553.2 455.7,552.7 455.2,552.1 454.9,551.4 454.8,550.5 455.0,549.3 455.7,547.6 457.6,544.8 461.4,540.5 461.1,540.0 460.8,539.4 456.2,542.5 453.4,543.9 451.9,544.2 450.8,544.0 450.1,543.6 449.6,543.0 449.2,542.3 449.0,541.5 448.9,540.6 449.0,539.6 449.5,538.3 450.6,536.8 453.2,534.4 457.9,531.0 457.8,530.3 457.7,529.7 452.5,531.4 449.5,532.0 447.9,531.8 447.0,531.3 446.4,530.6 446.1,529.8 445.9,528.9 445.9,527.9 446.0,526.9 446.4,525.9 447.2,524.7 448.6,523.3 451.7,521.6 457.1,519.3 457.1,518.5 457.2,517.7 451.8,518.0 448.7,517.7 447.2,517.1 446.4,516.2 446.0,515.3 445.8,514.3 445.9,513.3 446.0,512.3 446.4,511.2 447.0,510.2 448.1,509.1 449.8,508.0 453.1,506.9 458.9,505.9 459.1,505.0 459.3,504.2 454.0,503.1 451.0,502.0 449.7,500.9 449.1,499.8 448.9,498.7 448.9,497.6 449.2,496.5 449.5,495.5 450.1,494.4 450.9,493.4 452.1,492.5 454.0,491.8 457.5,491.4 463.3,491.7 463.7,490.8 464.0,489.9 459.0,487.5 456.3,485.6 455.3,484.2 454.9,482.8 454.9,481.6 455.1,480.5 455.6,479.4 456.1,478.4 456.8,477.4 457.8,476.6 459.1,475.9 461.1,475.5 464.5,476.0 470.0,477.6 470.5,476.7 470.9,475.8 466.6,472.2 464.4,469.7 463.6,467.9 463.5,466.4 463.7,465.2 464.1,464.1 464.7,463.0 465.4,462.1 466.3,461.3 467.3,460.6 468.7,460.2 470.6,460.2 473.7,461.4 478.5,464.2 479.1,463.4 479.7,462.6 476.3,458.0 474.6,454.9 474.2,453.0 474.3,451.5 474.8,450.2 475.4,449.2 476.1,448.3 476.9,447.5 477.8,446.9 478.9,446.4 480.2,446.3 481.9,446.8 484.6,448.6 488.5,452.4 489.2,451.8 489.9,451.1 487.5,445.8 486.5,442.4 486.5,440.3 486.9,438.9 487.5,437.7 488.2,436.9 489.0,436.1 489.9,435.5 490.8,435.1 491.9,434.9 493.1,435.1 494.5,435.9 496.5,438.3 499.3,443.0 500.0,442.5 500.7,442.0 499.6,436.2 499.4,432.6 499.7,430.7 500.3,429.3 501.1,428.4 501.9,427.7 502.7,427.2 503.6,426.8 504.5,426.6 505.5,426.7 506.5,427.1 507.6,428.3 508.9,431.1 510.4,436.3 511.0,436.0 511.7,435.7 511.9,429.8 512.4,426.4 513.1,424.5 513.9,423.4 514.8,422.7 515.6,422.2 516.4,422.0 517.3,421.8 518.1,421.9 518.9,422.2 519.7,422.9 520.3,424.4 520.8,427.4 520.9,432.9 521.6,432.8 522.2,432.7 523.7,427.1 524.9,423.9 525.9,422.3 526.9,421.5 527.8,421.0 528.6,420.8 529.4,420.8 530.1,420.9 530.8,421.2 531.4,421.8 531.9,422.7 532.1,424.3 531.7,427.5 530.5,432.9 531.0,433.0 531.5,433.1 534.2,428.1 536.1,425.3 537.4,424.1 538.4,423.6 539.3,423.4 540.1,423.5 540.7,423.8 541.4,424.1 541.9,424.7 542.3,425.4 542.4,426.5 542.2,428.2 541.0,431.3 538.4,436.3 538.8,436.6 539.2,436.9 543.0,432.8 545.4,430.7 546.8,429.9 547.9,429.7 548.7,429.8 549.4,430.2 549.9,430.7 550.4,431.3 550.7,432.0 550.8,432.9 550.6,434.1 549.9,435.8 548.0,438.6 544.2,442.9 544.5,443.4 544.8,444.0 549.4,440.9 552.2,439.5 553.7,439.2 554.8,439.4 555.5,439.8 556.0,440.4 556.4,441.1 556.6,441.9 556.7,442.8 556.6,443.8 556.1,445.1 555.0,446.6 552.4,449.0 547.7,452.4 547.8,453.1 547.9,453.7 553.1,452.0 556.1,451.4 557.7,451.6 558.6,452.1 559.2,452.8 559.5,453.6 559.7,454.5 559.7,455.5 559.6,456.5 559.2,457.5 558.4,458.7 557.0,460.1 553.9,461.8 548.5,464.1 548.5,464.9 548.4,465.7 553.8,465.4 556.9,465.7 558.4,466.3 559.2,467.2 559.6,468.1 559.8,469.1 559.7,470.1 559.6,471.1 559.2,472.2 558.6,473.2 557.5,474.3 555.8,475.4 552.5,476.5 546.7,477.5 546.5,478.4 546.3,479.2 551.6,480.3 554.6,481.4 555.9,482.5 556.5,483.6 556.7,484.7 556.7,485.8 556.4,486.9 556.1,487.9 555.5,489.0 554.7,490.0 553.5,490.9 551.6,491.6 548.1,492.0 542.3,491.7 541.9,492.6 541.6,493.5 546.6,495.9 549.3,497.8 550.3,499.2 550.7,500.6 550.7,501.8 550.5,502.9 550.0,504.0 549.5,505.0 548.8,506.0 547.8,506.8 546.5,507.5 544.5,507.9 541.1,507.4 535.6,505.8 535.1,506.7 534.7,507.6 539.0,511.2 541.2,513.7 542.0,515.5" fill="#fff" stroke="#1a1a1a" stroke-width="1.4" stroke-linejoin="round" stroke-linecap="round"/>
<polygon points="539.0,517.0 539.1,518.5 538.9,519.7 538.5,520.8 537.9,521.9 537.2,522.8 536.3,523.6 535.3,524.3 533.9,524.7 532.0,524.7 528.9,523.5 524.1,520.7 523.5,521.5 522.9,522.3 526.3,526.9 528.0,530.0 528.4,531.9 528.3,533.4 527.8,534.7 527.2,535.7 526.5,536.6 525.7,537.4 524.8,538.0 523.7,538.5 522.4,538.6 520.7,538.1 518.0,536.3 514.1,532.5 513.4,533.1 512.7,533.8 515.1,539.1 516.1,542.5 516.1,544.6 515.7,546.0 515.1,547.2 514.4,548.0 513.6,548.8 512.7,549.4 511.8,549.8 510.7,550.0 509.5,549.8 508.1,549.0 506.1,546.6 503.3,541.9 502.6,542.4 501.9,542.9 503.0,548.7 503.2,552.3 502.9,554.2 502.3,555.6 501.5,556.5 500.7,557.2 499.9,557.7 499.0,558.1 498.1,558.3 497.1,558.2 496.1,557.8 495.0,556.6 493.7,553.8 492.2,548.6 491.6,548.9 490.9,549.2 490.7,555.1 490.2,558.5 489.5,560.4 488.7,561.5 487.8,562.2 487.0,562.7 486.2,562.9 485.3,563.1 484.5,563.0 483.7,562.7 482.9,562.0 482.3,560.5 481.8,557.5 481.7,552.0 481.0,552.1 480.4,552.2 478.9,557.8 477.7,561.0 476.7,562.6 475.7,563.4 474.8,563.9 474.0,564.1 473.2,564.1 472.5,564.0 471.8,563.7 471.2,563.1 470.7,562.2 470.5,560.6 470.9,557.4 472.1,552.0 471.6,551.9 471.1,551.8 468.4,556.8 466.5,559.6 465.2,560.8 464.2,561.3 463.3,561.5 462.5,561.4 461.9,561.1 461.2,560.8 460.7,560.2 460.3,559.5 460.2,558.4 460.4,556.7 461.6,553.6 464.2,548.6 463.8,548.3 463.4,548.0 459.6,552.1 457.2,554.2 455.8,555.0 454.7,555.2 453.9,555.1 453.2,554.7 452.7,554.2 452.2,553.6 451.9,552.9 451.8,552.0 452.0,550.8 452.7,549.1 454.6,546.3 458.4,542.0 458.1,541.5 457.8,540.9 453.2,544.0 450.4,545.4 448.9,545.7 447.8,545.5 447.1,545.1 446.6,544.5 446.2,543.8 446.0,543.0 445.9,542.1 446.0,541.1 446.5,539.8 447.6,538.3 450.2,535.9 454.9,532.5 454.8,531.8 454.7,531.2 449.5,532.9 446.5,533.5 444.9,533.3 444.0,532.8 443.4,532.1 443.1,531.3 442.9,530.4 442.9,529.4 443.0,528.4 443.4,527.4 444.2,526.2 445.6,524.8 448.7,523.1 454.1,520.8 454.1,520.0 454.2,519.2 448.8,519.5 445.7,519.2 444.2,518.6 443.4,517.7 443.0,516.8 442.8,515.8 442.9,514.8 443.0,513.8 443.4,512.7 444.0,511.7 445.1,510.6 446.8,509.5 450.1,508.4 455.9,507.4 456.1,506.5 456.3,505.7 451.0,504.6 448.0,503.5 446.7,502.4 446.1,501.3 445.9,500.2 445.9,499.1 446.2,498.0 446.5,497.0 447.1,495.9 447.9,494.9 449.1,494.0 451.0,493.3 454.5,492.9 460.3,493.2 460.7,492.3 461.0,491.4 456.0,489.0 453.3,487.1 452.3,485.7 451.9,484.3 451.9,483.1 452.1,482.0 452.6,480.9 453.1,479.9 453.8,478.9 454.8,478.1 456.1,477.4 458.1,477.0 461.5,477.5 467.0,479.1 467.5,478.2 467.9,477.3 463.6,473.7 461.4,471.2 460.6,469.4 460.5,467.9 460.7,466.7 461.1,465.6 461.7,464.5 462.4,463.6 463.3,462.8 464.3,462.1 465.7,461.7 467.6,461.7 470.7,462.9 475.5,465.7 476.1,464.9 476.7,464.1 473.3,459.5 471.6,456.4 471.2,454.5 471.3,453.0 471.8,451.7 472.4,450.7 473.1,449.8 473.9,449.0 474.8,448.4 475.9,447.9 477.2,447.8 478.9,448.3 481.6,450.1 485.5,453.9 486.2,453.3 486.9,452.6 484.5,447.3 483.5,443.9 483.5,441.8 483.9,440.4 484.5,439.2 485.2,438.4 486.0,437.6 486.9,437.0 487.8,436.6 488.9,436.4 490.1,436.6 491.5,437.4 493.5,439.8 496.3,444.5 497.0,444.0 497.7,443.5 496.6,437.7 496.4,434.1 496.7,432.2 497.3,430.8 498.1,429.9 498.9,429.2 499.7,428.7 500.6,428.3 501.5,428.1 502.5,428.2 503.5,428.6 504.6,429.8 505.9,432.6 507.4,437.8 508.0,437.5 508.7,437.2 508.9,431.3 509.4,427.9 510.1,426.0 510.9,424.9 511.8,424.2 512.6,423.7 513.4,423.5 514.3,423.3 515.1,423.4 515.9,423.7 516.7,424.4 517.3,425.9 517.8,428.9 517.9,434.4 518.6,434.3 519.2,434.2 520.7,428.6 521.9,425.4 522.9,423.8 523.9,423.0 524.8,422.5 525.6,422.3 526.4,422.3 527.1,422.4 527.8,422.7 528.4,423.3 528.9,424.2 529.1,425.8 528.7,429.0 527.5,434.4 528.0,434.5 528.5,434.6 531.2,429.6 533.1,426.8 534.4,425.6 535.4,425.1 536.3,424.9 537.1,425.0 537.7,425.3 538.4,425.6 538.9,426.2 539.3,426.9 539.4,428.0 539.2,429.7 538.0,432.8 535.4,437.8 535.8,438.1 536.2,438.4 540.0,434.3 542.4,432.2 543.8,431.4 544.9,431.2 545.7,431.3 546.4,431.7 546.9,432.2 547.4,432.8 547.7,433.5 547.8,434.4 547.6,435.6 546.9,437.3 545.0,440.1 541.2,444.4 541.5,444.9 541.8,445.5 546.4,442.4 549.2,441.0 550.7,440.7 551.8,440.9 552.5,441.3 553.0,441.9 553.4,442.6 553.6,443.4 553.7,444.3 553.6,445.3 553.1,446.6 552.0,448.1 549.4,450.5 544.7,453.9 544.8,454.6 544.9,455.2 550.1,453.5 553.1,452.9 554.7,453.1 555.6,453.6 556.2,454.3 556.5,455.1 556.7,456.0 556.7,457.0 556.6,458.0 556.2,459.0 555.4,460.2 554.0,461.6 550.9,463.3 545.5,465.6 545.5,466.4 545.4,467.2 550.8,466.9 553.9,467.2 555.4,467.8 556.2,468.7 556.6,469.6 556.8,470.6 556.7,471.6 556.6,472.6 556.2,473.7 555.6,474.7 554.5,475.8 552.8,476.9 549.5,478.0 543.7,479.0 543.5,479.9 543.3,480.7 548.6,481.8 551.6,482.9 552.9,484.0 553.5,485.1 553.7,486.2 553.7,487.3 553.4,488.4 553.1,489.4 552.5,490.5 551.7,491.5 550.5,492.4 548.6,493.1 545.1,493.5 539.3,493.2 538.9,494.1 538.6,495.0 543.6,497.4 546.3,499.3 547.3,500.7 547.7,502.1 547.7,503.3 547.5,504.4 547.0,505.5 546.5,506.5 545.8,507.5 544.8,508.3 543.5,509.0 541.5,509.4 538.1,508.9 532.6,507.3 532.1,508.2 531.7,509.1 536.0,512.7 538.2,515.2 539.0,517.0" fill="#fff" stroke="#1a1a1a" stroke-width="1.8" stroke-linejoin="round" stroke-linecap="round"/>
<path d="M533.6,513.6 Q536.2,520.7 528.8,520.9" fill="none" stroke="#1a1a1a" stroke-width="0.8" stroke-linejoin="round" stroke-linecap="round"/>
<path d="M524.0,527.3 Q525.2,535.1 518.4,533.7" fill="none" stroke="#1a1a1a" stroke-width="0.8" stroke-linejoin="round" stroke-linecap="round"/>
<path d="M512.9,539.0 Q512.7,547.0 506.8,544.1" fill="none" stroke="#1a1a1a" stroke-width="0.8" stroke-linejoin="round" stroke-linecap="round"/>
<path d="M501.1,548.1 Q499.4,555.8 494.9,551.6" fill="none" stroke="#1a1a1a" stroke-width="0.8" stroke-linejoin="round" stroke-linecap="round"/>
<path d="M489.2,554.0 Q486.2,560.9 483.2,555.6" fill="none" stroke="#1a1a1a" stroke-width="0.8" stroke-linejoin="round" stroke-linecap="round"/>
<path d="M477.9,556.3 Q473.7,562.1 472.5,556.1" fill="none" stroke="#1a1a1a" stroke-width="0.8" stroke-linejoin="round" stroke-linecap="round"/>
<path d="M467.9,555.0 Q462.8,559.4 463.4,552.9" fill="none" stroke="#1a1a1a" stroke-width="0.8" stroke-linejoin="round" stroke-linecap="round"/>
<path d="M459.8,550.1 Q454.0,552.7 456.4,546.2" fill="none" stroke="#1a1a1a" stroke-width="0.8" stroke-linejoin="round" stroke-linecap="round"/>
<path d="M453.9,541.9 Q447.9,542.6 451.9,536.4" fill="none" stroke="#1a1a1a" stroke-width="0.8" stroke-linejoin="round" stroke-linecap="round"/>
<path d="M450.8,530.8 Q444.8,529.7 450.2,524.2" fill="none" stroke="#1a1a1a" stroke-width="0.8" stroke-linejoin="round" stroke-linecap="round"/>
<path d="M450.4,517.6 Q444.9,514.6 451.4,510.1" fill="none" stroke="#1a1a1a" stroke-width="0.8" stroke-linejoin="round" stroke-linecap="round"/>
<path d="M453.0,502.9 Q448.2,498.3 455.4,495.0" fill="none" stroke="#1a1a1a" stroke-width="0.8" stroke-linejoin="round" stroke-linecap="round"/>
<path d="M458.3,487.7 Q454.5,481.6 462.0,479.9" fill="none" stroke="#1a1a1a" stroke-width="0.8" stroke-linejoin="round" stroke-linecap="round"/>
<path d="M466.0,472.8 Q463.4,465.7 470.8,465.5" fill="none" stroke="#1a1a1a" stroke-width="0.8" stroke-linejoin="round" stroke-linecap="round"/>
<path d="M475.6,459.1 Q474.4,451.3 481.2,452.7" fill="none" stroke="#1a1a1a" stroke-width="0.8" stroke-linejoin="round" stroke-linecap="round"/>
<path d="M486.7,447.4 Q486.9,439.4 492.8,442.3" fill="none" stroke="#1a1a1a" stroke-width="0.8" stroke-linejoin="round" stroke-linecap="round"/>
<path d="M498.5,438.3 Q500.2,430.6 504.7,434.8" fill="none" stroke="#1a1a1a" stroke-width="0.8" stroke-linejoin="round" stroke-linecap="round"/>
<path d="M510.4,432.4 Q513.4,425.5 516.4,430.8" fill="none" stroke="#1a1a1a" stroke-width="0.8" stroke-linejoin="round" stroke-linecap="round"/>
<path d="M521.7,430.1 Q525.9,424.3 527.1,430.3" fill="none" stroke="#1a1a1a" stroke-width="0.8" stroke-linejoin="round" stroke-linecap="round"/>
<path d="M531.7,431.4 Q536.8,427.0 536.2,433.5" fill="none" stroke="#1a1a1a" stroke-width="0.8" stroke-linejoin="round" stroke-linecap="round"/>
<path d="M539.8,436.3 Q545.6,433.7 543.2,440.2" fill="none" stroke="#1a1a1a" stroke-width="0.8" stroke-linejoin="round" stroke-linecap="round"/>
<path d="M545.7,444.5 Q551.7,443.8 547.7,450.0" fill="none" stroke="#1a1a1a" stroke-width="0.8" stroke-linejoin="round" stroke-linecap="round"/>
<path d="M548.8,455.6 Q554.8,456.7 549.4,462.2" fill="none" stroke="#1a1a1a" stroke-width="0.8" stroke-linejoin="round" stroke-linecap="round"/>
<path d="M549.2,468.8 Q554.7,471.8 548.2,476.3" fill="none" stroke="#1a1a1a" stroke-width="0.8" stroke-linejoin="round" stroke-linecap="round"/>
<path d="M546.6,483.5 Q551.4,488.1 544.2,491.4" fill="none" stroke="#1a1a1a" stroke-width="0.8" stroke-linejoin="round" stroke-linecap="round"/>
<path d="M541.3,498.7 Q545.1,504.8 537.6,506.5" fill="none" stroke="#1a1a1a" stroke-width="0.8" stroke-linejoin="round" stroke-linecap="round"/>
<ellipse cx="509.0" cy="495.4" rx="40.6" ry="62.3" fill="#fff" stroke="#1a1a1a" stroke-width="1.3" transform="rotate(21.4 509.0 495.4)"/>
<ellipse cx="507.0" cy="495.9" rx="40.6" ry="62.3" fill="#fff" stroke="#1a1a1a" stroke-width="1.6" transform="rotate(21.4 507.0 495.9)"/>
<ellipse cx="508.0" cy="495.9" rx="37.6" ry="59.3" fill="none" stroke="#1a1a1a" stroke-width="0.8" transform="rotate(21.4 508.0 495.9)"/>
<rect x="524.5" y="514.8" width="12" height="8.4" rx="4.2" transform="rotate(48.2 530.5 519.0)" fill="#fff" stroke="#1a1a1a" stroke-width="1.7"/>
<rect x="503.7" y="533.5" width="12" height="8.4" rx="4.2" transform="rotate(89.9 509.7 537.7)" fill="#fff" stroke="#1a1a1a" stroke-width="1.7"/>
<rect x="482.4" y="532.6" width="12" height="8.4" rx="4.2" transform="rotate(115.8 488.4 536.8)" fill="#fff" stroke="#1a1a1a" stroke-width="1.7"/>
<rect x="470.5" y="512.6" width="12" height="8.4" rx="4.2" transform="rotate(144.9 476.5 516.8)" fill="#fff" stroke="#1a1a1a" stroke-width="1.7"/>
<rect x="473.6" y="482.8" width="12" height="8.4" rx="4.2" transform="rotate(-163.2 479.6 487.0)" fill="#fff" stroke="#1a1a1a" stroke-width="1.7"/>
<rect x="490.2" y="457.1" width="12" height="8.4" rx="4.2" transform="rotate(-107.5 496.2 461.3)" fill="#fff" stroke="#1a1a1a" stroke-width="1.7"/>
<rect x="512.5" y="447.7" width="12" height="8.4" rx="4.2" transform="rotate(-76.5 518.5 451.9)" fill="#fff" stroke="#1a1a1a" stroke-width="1.7"/>
<rect x="530.2" y="458.8" width="12" height="8.4" rx="4.2" transform="rotate(-51.1 536.2 463.0)" fill="#fff" stroke="#1a1a1a" stroke-width="1.7"/>
<rect x="534.9" y="485.3" width="12" height="8.4" rx="4.2" transform="rotate(-13.1 540.9 489.5)" fill="#fff" stroke="#1a1a1a" stroke-width="1.7"/>
<ellipse cx="507.5" cy="496.0" rx="22.5" ry="28.5" fill="#fff" stroke="#1a1a1a" stroke-width="1.5" transform="rotate(26 507.5 496.0)"/>
<ellipse cx="507.0" cy="495.5" rx="19.0" ry="24.5" fill="#fff" stroke="#1a1a1a" stroke-width="3.4" transform="rotate(26 507.0 495.5)"/>
<ellipse cx="506.5" cy="495.0" rx="16.0" ry="21.5" fill="#fff" stroke="#1a1a1a" stroke-width="1.3" transform="rotate(26 506.5 495.0)"/>
<line x1="492.0" y1="485.0" x2="522.0" y2="501.0" stroke="#1a1a1a" stroke-width="1.7"/>
<line x1="492.0" y1="489.5" x2="521.0" y2="505.0" stroke="#1a1a1a" stroke-width="1.1"/>
<line x1="472.0" y1="562.0" x2="472.0" y2="585.0" stroke="#1a1a1a" stroke-width="1.2"/>
<text x="474.0" y="595.3" font-size="9.2" text-anchor="middle" font-weight="bold" fill="#1a1a1a" stroke="#1a1a1a" stroke-width="0.35">28</text>
<path d="M567.5,502.5 A18.5 24 20 1 0 546,544" fill="none" stroke="#1a1a1a" stroke-width="1.9" stroke-linejoin="round" stroke-linecap="round"/>
<line x1="537.5" y1="545.0" x2="537.5" y2="556.0" stroke="#1a1a1a" stroke-width="1.1"/>
<text x="538.0" y="565.3" font-size="9.2" text-anchor="middle" font-weight="bold" fill="#1a1a1a" stroke="#1a1a1a" stroke-width="0.35">27</text>
<ellipse cx="553.0" cy="529.0" rx="12.0" ry="17.0" fill="#fff" stroke="#1a1a1a" stroke-width="1.5" transform="rotate(25 553.0 529.0)"/>
<polygon points="550.0,512.0 561.0,508.0 575.0,520.0 572.0,546.0 560.0,549.0 548.0,544.0" fill="#fff" stroke="none" stroke-width="0" stroke-linejoin="round" stroke-linecap="round"/>
<line x1="551.0" y1="512.5" x2="562.0" y2="508.0" stroke="#1a1a1a" stroke-width="1.5"/>
<line x1="550.0" y1="546.0" x2="561.0" y2="549.5" stroke="#1a1a1a" stroke-width="1.5"/>
<ellipse cx="563.0" cy="530.0" rx="11.5" ry="17.0" fill="#fff" stroke="#1a1a1a" stroke-width="1.8" transform="rotate(25 563.0 530.0)"/>
<circle cx="571.2" cy="533.8" r="1.8" fill="#fff" stroke="#1a1a1a" stroke-width="1"/>
<circle cx="567.1" cy="539.6" r="1.8" fill="#fff" stroke="#1a1a1a" stroke-width="1"/>
<circle cx="562.0" cy="542.9" r="1.8" fill="#fff" stroke="#1a1a1a" stroke-width="1"/>
<circle cx="557.1" cy="542.7" r="1.8" fill="#fff" stroke="#1a1a1a" stroke-width="1"/>
<circle cx="553.8" cy="539.1" r="1.8" fill="#fff" stroke="#1a1a1a" stroke-width="1"/>
<circle cx="553.0" cy="533.1" r="1.8" fill="#fff" stroke="#1a1a1a" stroke-width="1"/>
<circle cx="554.8" cy="526.2" r="1.8" fill="#fff" stroke="#1a1a1a" stroke-width="1"/>
<circle cx="558.9" cy="520.4" r="1.8" fill="#fff" stroke="#1a1a1a" stroke-width="1"/>
<circle cx="564.0" cy="517.1" r="1.8" fill="#fff" stroke="#1a1a1a" stroke-width="1"/>
<circle cx="568.9" cy="517.3" r="1.8" fill="#fff" stroke="#1a1a1a" stroke-width="1"/>
<circle cx="572.2" cy="520.9" r="1.8" fill="#fff" stroke="#1a1a1a" stroke-width="1"/>
<circle cx="573.0" cy="526.9" r="1.8" fill="#fff" stroke="#1a1a1a" stroke-width="1"/>
<ellipse cx="563.5" cy="530.5" rx="6.3" ry="10.0" fill="#fff" stroke="#1a1a1a" stroke-width="1.6" transform="rotate(25 563.5 530.5)"/>
<line x1="555.5" y1="548.0" x2="555.5" y2="564.0" stroke="#1a1a1a" stroke-width="1.0" stroke-dasharray="2,1"/>
<text x="556.0" y="573.3" font-size="9.2" text-anchor="middle" font-weight="bold" fill="#1a1a1a" stroke="#1a1a1a" stroke-width="0.35">10</text>
<ellipse cx="583.0" cy="539.0" rx="15.0" ry="19.5" fill="#fff" stroke="#1a1a1a" stroke-width="1.6" transform="rotate(25 583.0 539.0)"/>
<ellipse cx="584.0" cy="540.0" rx="8.0" ry="12.0" fill="#fff" stroke="#1a1a1a" stroke-width="1.4" transform="rotate(25 584.0 540.0)"/>
<circle cx="591.4" cy="548.1" r="1.3" fill="#1a1a1a"/>
<circle cx="573.1" cy="551.1" r="1.3" fill="#1a1a1a"/>
<circle cx="575.2" cy="529.2" r="1.3" fill="#1a1a1a"/>
<circle cx="592.6" cy="526.5" r="1.3" fill="#1a1a1a"/>
<line x1="585.0" y1="559.0" x2="585.0" y2="582.0" stroke="#1a1a1a" stroke-width="1.1"/>
<text x="584.0" y="591.3" font-size="9.2" text-anchor="middle" font-weight="bold" fill="#1a1a1a" stroke="#1a1a1a" stroke-width="0.35">23</text>
<ellipse cx="601.0" cy="548.0" rx="9.5" ry="12.0" fill="#fff" stroke="#1a1a1a" stroke-width="1.8" transform="rotate(25 601.0 548.0)"/>
<ellipse cx="602.5" cy="549.0" rx="5.5" ry="7.5" fill="#fff" stroke="#1a1a1a" stroke-width="2.4" transform="rotate(25 602.5 549.0)"/>
<line x1="597.0" y1="561.0" x2="597.0" y2="589.0" stroke="#1a1a1a" stroke-width="1.0"/>
<text x="598.0" y="598.3" font-size="9.2" text-anchor="middle" font-weight="bold" fill="#1a1a1a" stroke="#1a1a1a" stroke-width="0.35">1 1</text>
<line x1="589.0" y1="474.0" x2="589.0" y2="520.0" stroke="#1a1a1a" stroke-width="1.0"/>
<line x1="589.0" y1="474.0" x2="596.0" y2="479.0" stroke="#1a1a1a" stroke-width="1.0"/>
<path d="M595,481.5 L600.5,479 L601.5,486 L596,488.5 Z" fill="#fff" stroke="#1a1a1a" stroke-width="1.5" stroke-linejoin="round" stroke-linecap="round"/>
<path d="M600,481 Q604,472.5 611,473.5 Q616.5,475 617,481 L613,485 Q612,479.5 607,479.5 Q602.5,480 601.5,485 Z" fill="#fff" stroke="#1a1a1a" stroke-width="1.6" stroke-linejoin="round" stroke-linecap="round"/>
<line x1="603.0" y1="477.0" x2="612.0" y2="476.5" stroke="#1a1a1a" stroke-width="0.8"/>
<line x1="606.5" y1="455.5" x2="606.5" y2="473.5" stroke="#1a1a1a" stroke-width="1.2"/>
<text x="607.4" y="453.3" font-size="9.2" text-anchor="middle" font-weight="bold" fill="#1a1a1a" stroke="#1a1a1a" stroke-width="0.35">24</text>
<line x1="608.5" y1="486.0" x2="619.5" y2="491.5" stroke="#1a1a1a" stroke-width="4.2"/>
<line x1="609.5" y1="486.3" x2="618.5" y2="491.0" stroke="#fff" stroke-width="1.8"/>
<polygon points="618.5,489 621,487 626.5,487.5 629,491.5 628,496.5 623.5,498 619,496" fill="#fff" stroke="#1a1a1a" stroke-width="1.6" stroke-linejoin="round"/>
<line x1="621.0" y1="492.0" x2="627.0" y2="492.5" stroke="#1a1a1a" stroke-width="0.8"/>
<line x1="623.5" y1="466.0" x2="623.5" y2="488.0" stroke="#1a1a1a" stroke-width="1.2"/>
<text x="623.0" y="465.3" font-size="9.2" text-anchor="middle" font-weight="bold" fill="#1a1a1a" stroke="#1a1a1a" stroke-width="0.35">25</text>
<line x1="250.5" y1="399.0" x2="216.0" y2="423.0" stroke="#1a1a1a" stroke-width="0.9"/>
<line x1="275.5" y1="404.0" x2="275.5" y2="413.0" stroke="#1a1a1a" stroke-width="0.9" stroke-dasharray="2,1.5"/>
<path d="M216,426 L217,421 L232,423 L234,428 L229,431 L224,429 L219,431 Z" fill="#fff" stroke="#1a1a1a" stroke-width="1.4" stroke-linejoin="round" stroke-linecap="round"/>
<circle cx="221.0" cy="426.0" r="1.2" fill="#1a1a1a"/>
<circle cx="229.0" cy="427.0" r="1.2" fill="#1a1a1a"/>
<line x1="223.0" y1="441.0" x2="226.0" y2="431.0" stroke="#1a1a1a" stroke-width="1.0"/>
<text x="219.0" y="452.3" font-size="9.2" text-anchor="middle" font-weight="bold" fill="#1a1a1a" stroke="#1a1a1a" stroke-width="0.35">20</text>
<ellipse cx="235.0" cy="436.0" rx="4.2" ry="4.6" fill="#444" stroke="#1a1a1a" stroke-width="2.2"/>
<circle cx="235.5" cy="436.5" r="1.5" fill="#fff"/>
<line x1="234.0" y1="441.0" x2="234.0" y2="452.0" stroke="#1a1a1a" stroke-width="1.0"/>
<text x="233.0" y="460.3" font-size="9.2" text-anchor="middle" font-weight="bold" fill="#1a1a1a" stroke="#1a1a1a" stroke-width="0.35">21</text>
<line x1="264.0" y1="414.5" x2="283.0" y2="424.5" stroke="#1a1a1a" stroke-width="5.5"/>
<line x1="265.0" y1="414.5" x2="282.0" y2="424.0" stroke="#fff" stroke-width="3.0"/>
<line x1="272.0" y1="428.0" x2="272.0" y2="438.0" stroke="#1a1a1a" stroke-width="1.0"/>
<text x="272.0" y="448.3" font-size="9.2" text-anchor="middle" font-weight="bold" fill="#1a1a1a" stroke="#1a1a1a" stroke-width="0.35">22</text>
<path d="M186.5,489.5 L200,481.5 Q205.5,481 205.5,485.5 L205,489 L199.5,492.5 L199,500 L190,500 Q186,499 186,496 Z" fill="#fff" stroke="#1a1a1a" stroke-width="1.7" stroke-linejoin="round" stroke-linecap="round"/>
<line x1="188.5" y1="489.0" x2="201.0" y2="482.5" stroke="#1a1a1a" stroke-width="1.0"/>
<line x1="191.0" y1="494.0" x2="201.0" y2="488.5" stroke="#1a1a1a" stroke-width="2.4"/>
<line x1="193.5" y1="471.0" x2="193.5" y2="484.0" stroke="#1a1a1a" stroke-width="1.1"/>
<text x="194.0" y="469.3" font-size="9.2" text-anchor="middle" font-weight="bold" fill="#1a1a1a" stroke="#1a1a1a" stroke-width="0.35">33</text>
<line x1="205.0" y1="489.0" x2="240.0" y2="476.0" stroke="#1a1a1a" stroke-width="0.7"/>
<line x1="240.0" y1="476.0" x2="247.0" y2="479.0" stroke="#1a1a1a" stroke-width="0.7"/>
<line x1="195.5" y1="502.0" x2="195.5" y2="523.0" stroke="#1a1a1a" stroke-width="0.8" stroke-dasharray="2,2"/>
<line x1="249.0" y1="480.0" x2="259.0" y2="485.0" stroke="#1a1a1a" stroke-width="4.5"/>
<line x1="250.0" y1="480.0" x2="258.0" y2="484.5" stroke="#fff" stroke-width="2.2"/>
<line x1="261.0" y1="486.0" x2="274.0" y2="486.0" stroke="#1a1a1a" stroke-width="1.6"/>
<text x="281.0" y="489.3" font-size="9.2" text-anchor="middle" font-weight="bold" fill="#1a1a1a" stroke="#1a1a1a" stroke-width="0.35">34</text>
<ellipse cx="214.0" cy="500.5" rx="3.8" ry="4.3" fill="#333" stroke="#1a1a1a" stroke-width="2.4"/>
<circle cx="214.5" cy="500.5" r="1.3" fill="#ddd"/>
<line x1="218.0" y1="498.5" x2="275.0" y2="498.5" stroke="#1a1a1a" stroke-width="0.9"/>
<text x="281.0" y="502.3" font-size="9.2" text-anchor="middle" font-weight="bold" fill="#1a1a1a" stroke="#1a1a1a" stroke-width="0.35">35</text>
<line x1="223.0" y1="505.0" x2="236.0" y2="513.0" stroke="#1a1a1a" stroke-width="3.2"/>
<line x1="224.0" y1="505.0" x2="235.0" y2="512.0" stroke="#fff" stroke-width="1.1"/>
<ellipse cx="239.0" cy="515.0" rx="4.0" ry="4.5" fill="#fff" stroke="#1a1a1a" stroke-width="1.7"/>
<line x1="244.0" y1="516.0" x2="275.0" y2="516.0" stroke="#1a1a1a" stroke-width="1.6"/>
<text x="283.0" y="519.3" font-size="9.2" text-anchor="middle" font-weight="bold" fill="#1a1a1a" stroke="#1a1a1a" stroke-width="0.35">36</text>
<line x1="331.0" y1="457.0" x2="345.0" y2="465.5" stroke="#1a1a1a" stroke-width="5.0"/>
<line x1="332.0" y1="457.2" x2="344.5" y2="465.0" stroke="#fff" stroke-width="2.4"/>
<path d="M323,454 Q325,449.5 330,450.5 L334,453.5 Q335,458.5 332,461.5 L327,462 Q323,460 323,454 Z" fill="#fff" stroke="#1a1a1a" stroke-width="1.7" stroke-linejoin="round" stroke-linecap="round"/>
<line x1="327.0" y1="452.0" x2="330.0" y2="461.0" stroke="#1a1a1a" stroke-width="0.9"/>
<line x1="346.0" y1="466.0" x2="354.0" y2="470.0" stroke="#1a1a1a" stroke-width="0.8" stroke-dasharray="2,1.5"/>
<line x1="340.0" y1="469.0" x2="340.0" y2="497.0" stroke="#1a1a1a" stroke-width="1.2"/>
<text x="340.0" y="505.3" font-size="9.2" text-anchor="middle" font-weight="bold" fill="#1a1a1a" stroke="#1a1a1a" stroke-width="0.35">32</text>
<ellipse cx="358.0" cy="472.3" rx="4.6" ry="5.0" fill="#333" stroke="#1a1a1a" stroke-width="1.8" transform="rotate(20 358.0 472.3)"/>
<circle cx="358.0" cy="472.5" r="1.5" fill="#999"/>
<line x1="357.5" y1="478.0" x2="357.5" y2="508.0" stroke="#1a1a1a" stroke-width="1.2"/>
<text x="358.0" y="517.3" font-size="9.2" text-anchor="middle" font-weight="bold" fill="#1a1a1a" stroke="#1a1a1a" stroke-width="0.35">31</text>
<polyline points="363.0,476.0 373.0,480.5 373.5,464.0 381.0,466.5" fill="none" stroke="#1a1a1a" stroke-width="0.9" stroke-linejoin="round" stroke-linecap="round"/>
<polygon points="211.2,567.6 211.4,568.3 212.9,569.9 213.3,570.8 213.5,571.6 213.5,572.3 213.4,572.9 213.2,573.5 212.9,573.9 212.5,574.3 212.1,574.7 211.5,574.9 210.9,575.0 210.1,575.0 209.1,574.8 207.4,573.6 206.7,573.5 206.7,574.3 207.7,576.2 207.9,577.3 207.9,578.1 207.8,578.8 207.5,579.3 207.2,579.8 206.8,580.2 206.4,580.5 205.9,580.7 205.3,580.8 204.7,580.7 204.0,580.5 203.2,580.0 201.8,578.4 201.2,578.2 201.1,578.9 201.6,581.0 201.5,582.1 201.3,582.9 201.0,583.5 200.6,584.0 200.2,584.4 199.8,584.7 199.3,584.8 198.8,584.9 198.3,584.8 197.8,584.6 197.2,584.2 196.6,583.5 195.8,581.6 195.4,581.2 195.1,581.8 194.9,584.0 194.6,585.0 194.2,585.7 193.8,586.2 193.4,586.6 192.9,586.9 192.5,587.0 192.0,587.0 191.6,586.9 191.1,586.7 190.7,586.3 190.3,585.7 190.0,584.9 189.8,582.8 189.5,582.3 189.1,582.8 188.4,584.9 187.8,585.7 187.3,586.3 186.8,586.7 186.3,586.9 185.9,587.0 185.4,586.9 185.0,586.8 184.7,586.6 184.3,586.2 184.1,585.7 183.9,585.0 183.9,584.1 184.3,582.0 184.2,581.4 183.7,581.8 182.5,583.6 181.7,584.2 181.1,584.6 180.5,584.7 180.0,584.8 179.6,584.7 179.2,584.5 178.9,584.3 178.6,583.9 178.5,583.5 178.4,582.9 178.4,582.2 178.7,581.2 179.7,579.3 179.8,578.7 179.2,578.9 177.6,580.2 176.7,580.6 176.0,580.7 175.5,580.7 175.0,580.5 174.6,580.3 174.3,580.0 174.1,579.6 174.0,579.2 174.0,578.6 174.1,578.0 174.4,577.3 174.9,576.4 176.4,574.9 176.7,574.3 176.1,574.2 174.2,575.0 173.3,575.1 172.6,575.0 172.1,574.8 171.7,574.5 171.4,574.1 171.2,573.7 171.1,573.2 171.1,572.7 171.3,572.2 171.6,571.6 172.0,570.9 172.8,570.2 174.7,569.1 175.2,568.5 174.6,568.3 172.6,568.4 171.6,568.2 171.0,567.9 170.6,567.5 170.3,567.1 170.1,566.6 170.1,566.1 170.1,565.6 170.3,565.1 170.6,564.5 171.0,564.0 171.6,563.5 172.6,562.9 174.7,562.4 175.3,561.9 174.8,561.5 172.8,561.0 172.0,560.5 171.5,560.0 171.2,559.4 171.0,558.9 170.9,558.4 171.0,557.8 171.2,557.3 171.5,556.8 171.9,556.4 172.4,555.9 173.2,555.6 174.2,555.3 176.4,555.3 177.1,555.0 176.7,554.4 174.9,553.4 174.2,552.6 173.9,551.9 173.7,551.3 173.7,550.7 173.8,550.1 174.0,549.6 174.3,549.1 174.7,548.7 175.2,548.3 175.8,548.0 176.6,547.9 177.6,547.9 179.7,548.5 180.4,548.4 180.2,547.7 178.7,546.1 178.3,545.2 178.1,544.4 178.1,543.7 178.2,543.1 178.4,542.5 178.7,542.1 179.1,541.7 179.5,541.3 180.1,541.1 180.7,541.0 181.5,541.0 182.5,541.2 184.2,542.4 184.9,542.5 184.9,541.7 183.9,539.8 183.7,538.7 183.7,537.9 183.8,537.2 184.1,536.7 184.4,536.2 184.8,535.8 185.2,535.5 185.7,535.3 186.3,535.2 186.9,535.3 187.6,535.5 188.4,536.0 189.8,537.6 190.4,537.8 190.5,537.1 190.0,535.0 190.1,533.9 190.3,533.1 190.6,532.5 191.0,532.0 191.4,531.6 191.8,531.3 192.3,531.2 192.8,531.1 193.3,531.2 193.8,531.4 194.4,531.8 195.0,532.5 195.8,534.4 196.2,534.8 196.5,534.2 196.7,532.0 197.0,531.0 197.4,530.3 197.8,529.8 198.2,529.4 198.7,529.1 199.1,529.0 199.6,529.0 200.0,529.1 200.5,529.3 200.9,529.7 201.3,530.3 201.6,531.1 201.8,533.2 202.1,533.7 202.5,533.2 203.2,531.1 203.8,530.3 204.3,529.7 204.8,529.3 205.3,529.1 205.7,529.0 206.2,529.1 206.6,529.2 206.9,529.4 207.3,529.8 207.5,530.3 207.7,531.0 207.7,531.9 207.3,534.0 207.4,534.6 207.9,534.2 209.1,532.4 209.9,531.8 210.5,531.4 211.1,531.3 211.6,531.2 212.0,531.3 212.4,531.5 212.7,531.7 213.0,532.1 213.1,532.5 213.2,533.1 213.2,533.8 212.9,534.8 211.9,536.7 211.8,537.3 212.4,537.1 214.0,535.8 214.9,535.4 215.6,535.3 216.1,535.3 216.6,535.5 217.0,535.7 217.3,536.0 217.5,536.4 217.6,536.8 217.6,537.4 217.5,538.0 217.2,538.7 216.7,539.6 215.2,541.1 214.9,541.7 215.5,541.8 217.4,541.0 218.3,540.9 219.0,541.0 219.5,541.2 219.9,541.5 220.2,541.9 220.4,542.3 220.5,542.8 220.5,543.3 220.3,543.8 220.0,544.4 219.6,545.1 218.8,545.8 216.9,546.9 216.4,547.5 217.0,547.7 219.0,547.6 220.0,547.8 220.6,548.1 221.0,548.5 221.3,548.9 221.5,549.4 221.5,549.9 221.5,550.4 221.3,550.9 221.0,551.5 220.6,552.0 220.0,552.5 219.0,553.1 216.9,553.6 216.3,554.1 216.8,554.5 218.8,555.0 219.6,555.5 220.1,556.0 220.4,556.6 220.6,557.1 220.7,557.6 220.6,558.2 220.4,558.7 220.1,559.2 219.7,559.6 219.2,560.1 218.4,560.4 217.4,560.7 215.2,560.7 214.5,561.0 214.9,561.6 216.7,562.6 217.4,563.4 217.7,564.1 217.9,564.7 217.9,565.3 217.8,565.9 217.6,566.4 217.3,566.9 216.9,567.3 216.4,567.7 215.8,568.0 215.0,568.1 214.0,568.1 211.9,567.5 211.2,567.6" fill="#fff" stroke="#1a1a1a" stroke-width="1.7" stroke-linejoin="round" stroke-linecap="round"/>
<circle cx="211.0" cy="572.3" r="1.9" fill="none" stroke="#1a1a1a" stroke-width="1.1"/>
<circle cx="205.4" cy="578.1" r="1.9" fill="none" stroke="#1a1a1a" stroke-width="1.1"/>
<circle cx="199.1" cy="582.3" r="1.9" fill="none" stroke="#1a1a1a" stroke-width="1.1"/>
<circle cx="192.5" cy="584.5" r="1.9" fill="none" stroke="#1a1a1a" stroke-width="1.1"/>
<circle cx="186.1" cy="584.5" r="1.9" fill="none" stroke="#1a1a1a" stroke-width="1.1"/>
<circle cx="180.5" cy="582.4" r="1.9" fill="none" stroke="#1a1a1a" stroke-width="1.1"/>
<circle cx="176.2" cy="578.3" r="1.9" fill="none" stroke="#1a1a1a" stroke-width="1.1"/>
<circle cx="173.5" cy="572.6" r="1.9" fill="none" stroke="#1a1a1a" stroke-width="1.1"/>
<circle cx="172.5" cy="565.7" r="1.9" fill="none" stroke="#1a1a1a" stroke-width="1.1"/>
<circle cx="173.5" cy="558.2" r="1.9" fill="none" stroke="#1a1a1a" stroke-width="1.1"/>
<circle cx="176.3" cy="550.6" r="1.9" fill="none" stroke="#1a1a1a" stroke-width="1.1"/>
<circle cx="180.6" cy="543.7" r="1.9" fill="none" stroke="#1a1a1a" stroke-width="1.1"/>
<circle cx="186.2" cy="537.9" r="1.9" fill="none" stroke="#1a1a1a" stroke-width="1.1"/>
<circle cx="192.5" cy="533.7" r="1.9" fill="none" stroke="#1a1a1a" stroke-width="1.1"/>
<circle cx="199.1" cy="531.5" r="1.9" fill="none" stroke="#1a1a1a" stroke-width="1.1"/>
<circle cx="205.5" cy="531.5" r="1.9" fill="none" stroke="#1a1a1a" stroke-width="1.1"/>
<circle cx="211.1" cy="533.6" r="1.9" fill="none" stroke="#1a1a1a" stroke-width="1.1"/>
<circle cx="215.4" cy="537.7" r="1.9" fill="none" stroke="#1a1a1a" stroke-width="1.1"/>
<circle cx="218.1" cy="543.4" r="1.9" fill="none" stroke="#1a1a1a" stroke-width="1.1"/>
<circle cx="219.1" cy="550.3" r="1.9" fill="none" stroke="#1a1a1a" stroke-width="1.1"/>
<circle cx="218.1" cy="557.8" r="1.9" fill="none" stroke="#1a1a1a" stroke-width="1.1"/>
<circle cx="215.3" cy="565.4" r="1.9" fill="none" stroke="#1a1a1a" stroke-width="1.1"/>
<ellipse cx="196.3" cy="558.5" rx="17.2" ry="25.3" fill="none" stroke="#1a1a1a" stroke-width="0.9" transform="rotate(32 196.3 558.5)"/>
<polygon points="186.0,534.0 214.0,540.0 226.0,554.0 227.0,570.0 214.0,586.0 199.0,587.5 188.0,584.0" fill="#fff" stroke="none" stroke-width="0" stroke-linejoin="round" stroke-linecap="round"/>
<line x1="186.0" y1="534.0" x2="214.0" y2="540.0" stroke="#1a1a1a" stroke-width="1.3"/>
<path d="M184,540 Q176,562 190,584" fill="none" stroke="#1a1a1a" stroke-width="1.0" stroke-linejoin="round" stroke-linecap="round"/>
<ellipse cx="209.0" cy="566.0" rx="17.0" ry="21.5" fill="#fff" stroke="#1a1a1a" stroke-width="1.7" transform="rotate(28 209.0 566.0)"/>
<ellipse cx="209.5" cy="566.5" rx="14.0" ry="18.0" fill="none" stroke="#1a1a1a" stroke-width="1.0" transform="rotate(28 209.5 566.5)"/>
<ellipse cx="209.0" cy="567.0" rx="11.5" ry="15.0" fill="#fff" stroke="#1a1a1a" stroke-width="4.0" transform="rotate(28 209.0 567.0)"/>
<ellipse cx="208.5" cy="567.0" rx="7.0" ry="9.5" fill="#fff" stroke="#1a1a1a" stroke-width="1.3" transform="rotate(28 208.5 567.0)"/>
<line x1="200.0" y1="589.0" x2="200.0" y2="603.0" stroke="#1a1a1a" stroke-width="1.2"/>
<text x="198.5" y="612.3" font-size="9.2" text-anchor="middle" font-weight="bold" fill="#1a1a1a" stroke="#1a1a1a" stroke-width="0.35">26</text>
<ellipse cx="200" cy="611" rx="10.5" ry="14.5" fill="none" stroke="#d42020" stroke-width="2"/>
<polyline points="238.9,575.1 238.8,573.9 238.5,572.7 238.1,571.6 237.6,570.5 237.1,569.6 236.4,568.8 235.6,568.1 234.7,567.6 233.8,567.2 232.9,566.9 231.8,566.8 230.8,566.9 229.8,567.1 228.7,567.4 227.7,568.0 226.7,568.6 225.7,569.4 224.9,570.3 224.0,571.3 223.3,572.4 222.7,573.6 222.1,574.8 221.7,576.1 221.4,577.4 221.2,578.7 221.1,580.0 221.1,581.3 221.3,582.5 221.6,583.7 222.0,584.8 222.5,585.8 223.2,586.7 223.9,587.5 224.7,588.1 225.6,588.6 226.5,588.9 227.5,589.1 228.5,589.2 229.5,589.1 230.6,588.8" fill="none" stroke="#1a1a1a" stroke-width="1.8" stroke-linejoin="round" stroke-linecap="round"/>
<line x1="221.0" y1="590.0" x2="221.0" y2="616.0" stroke="#1a1a1a" stroke-width="1.1"/>
<text x="221.0" y="624.3" font-size="9.2" text-anchor="middle" font-weight="bold" fill="#1a1a1a" stroke="#1a1a1a" stroke-width="0.35">4</text>
<ellipse cx="240.0" cy="584.0" rx="8.5" ry="12.0" fill="#fff" stroke="#1a1a1a" stroke-width="1.6" transform="rotate(22 240.0 584.0)"/>
<ellipse cx="241.5" cy="584.5" rx="6.0" ry="9.5" fill="#fff" stroke="#1a1a1a" stroke-width="1.2" transform="rotate(22 241.5 584.5)"/>
<line x1="233.0" y1="596.0" x2="233.0" y2="622.0" stroke="#1a1a1a" stroke-width="1.0" stroke-dasharray="3,1"/>
<text x="232.0" y="631.3" font-size="9.2" text-anchor="middle" font-weight="bold" fill="#1a1a1a" stroke="#1a1a1a" stroke-width="0.35">3</text>
<ellipse cx="249.0" cy="587.5" rx="8.5" ry="11.5" fill="#fff" stroke="#1a1a1a" stroke-width="3.6" transform="rotate(22 249.0 587.5)"/>
<ellipse cx="250.5" cy="588.0" rx="5.5" ry="8.5" fill="#fff" stroke="#1a1a1a" stroke-width="1.4" transform="rotate(22 250.5 588.0)"/>
<line x1="242.0" y1="600.0" x2="242.0" y2="628.0" stroke="#1a1a1a" stroke-width="1.1"/>
<text x="241.0" y="637.3" font-size="9.2" text-anchor="middle" font-weight="bold" fill="#1a1a1a" stroke="#1a1a1a" stroke-width="0.35">3</text>
<ellipse cx="258.5" cy="592.5" rx="8.5" ry="12.0" fill="none" stroke="#1a1a1a" stroke-width="1.8" transform="rotate(22 258.5 592.5)"/>
<ellipse cx="259.5" cy="592.0" rx="6.3" ry="9.5" fill="none" stroke="#1a1a1a" stroke-width="1.0" transform="rotate(22 259.5 592.0)"/>
<line x1="251.0" y1="605.0" x2="251.0" y2="631.0" stroke="#1a1a1a" stroke-width="1.1"/>
<text x="250.0" y="640.3" font-size="9.2" text-anchor="middle" font-weight="bold" fill="#1a1a1a" stroke="#1a1a1a" stroke-width="0.35">4</text>
<polygon points="267.5,592.0 292.5,605.0 296.0,612.0 288.0,620.0 262.5,607.5" fill="#fff" stroke="none" stroke-width="0" stroke-linejoin="round" stroke-linecap="round"/>
<line x1="267.5" y1="592.0" x2="292.5" y2="605.0" stroke="#1a1a1a" stroke-width="1.5"/>
<line x1="262.5" y1="607.5" x2="287.5" y2="620.0" stroke="#1a1a1a" stroke-width="1.5"/>
<ellipse cx="265.0" cy="600.0" rx="4.5" ry="8.0" fill="#fff" stroke="#1a1a1a" stroke-width="1.3" transform="rotate(25 265.0 600.0)"/>
<ellipse cx="291.0" cy="612.5" rx="4.5" ry="8.0" fill="#fff" stroke="#1a1a1a" stroke-width="1.6" transform="rotate(25 291.0 612.5)"/>
<line x1="267.0" y1="610.0" x2="267.0" y2="640.0" stroke="#1a1a1a" stroke-width="1.1"/>
<text x="267.0" y="650.3" font-size="9.2" text-anchor="middle" font-weight="bold" fill="#1a1a1a" stroke="#1a1a1a" stroke-width="0.35">13</text>
<polygon points="350.5,561.0 350.5,581.0 356.0,581.0 356.0,561.0" fill="#fff" stroke="#1a1a1a" stroke-width="1.6" stroke-linejoin="round" stroke-linecap="round"/>
<line x1="353.5" y1="563.0" x2="353.5" y2="580.0" stroke="#1a1a1a" stroke-width="0.9" stroke-dasharray="1.5,1.5"/>
<path d="M348,557 Q348,552.5 353,552.5 Q358,552.5 358,557 Q358,561.5 353,562 Q348,561.5 348,557 Z" fill="#fff" stroke="#1a1a1a" stroke-width="1.6" stroke-linejoin="round" stroke-linecap="round"/>
<line x1="350.0" y1="556.0" x2="356.0" y2="556.0" stroke="#1a1a1a" stroke-width="0.8"/>
<line x1="357.0" y1="577.0" x2="380.0" y2="577.0" stroke="#1a1a1a" stroke-width="1.6"/>
<text x="386.0" y="581.3" font-size="9.2" text-anchor="middle" font-weight="bold" fill="#1a1a1a" stroke="#1a1a1a" stroke-width="0.35">44</text>
<ellipse cx="353.0" cy="594.3" rx="5.0" ry="3.8" fill="#333" stroke="#1a1a1a" stroke-width="1.6"/>
<ellipse cx="353.0" cy="594.3" rx="2.2" ry="1.5" fill="#aaa" stroke="#1a1a1a" stroke-width="0.8"/>
<line x1="358.0" y1="594.0" x2="380.0" y2="594.0" stroke="#1a1a1a" stroke-width="1.6"/>
<text x="386.0" y="597.8" font-size="9.2" text-anchor="middle" font-weight="bold" fill="#1a1a1a" stroke="#1a1a1a" stroke-width="0.35">43</text>
<line x1="352.5" y1="598.0" x2="352.5" y2="613.0" stroke="#1a1a1a" stroke-width="0.8" stroke-dasharray="2,1.5"/>
<path d="M338,624 L355,615 L361,617 L362.5,623 L350,630 L341,633 Z" fill="#fff" stroke="#1a1a1a" stroke-width="1.6" stroke-linejoin="round" stroke-linecap="round"/>
<circle cx="354.0" cy="619.5" r="1.4" fill="#1a1a1a"/>
<path d="M312,644 L284,654.5 L282,662 L288,664.5 L314,652 Z" fill="#fff" stroke="#1a1a1a" stroke-width="1.6" stroke-linejoin="round" stroke-linecap="round"/>
<circle cx="287.5" cy="658.0" r="1.2" fill="#1a1a1a"/>
<circle cx="294.0" cy="655.0" r="1.2" fill="#1a1a1a"/>
<circle cx="300.0" cy="651.0" r="1.2" fill="#1a1a1a"/>
<path d="M296,631 Q296,612 309,606 Q318,603 324,610 L333,612 Q341,617 342.5,628 L339,640 L330,646 L317,651 L311,649 Q302,645 296,631 Z" fill="#fff" stroke="#1a1a1a" stroke-width="1.7" stroke-linejoin="round" stroke-linecap="round"/>
<path d="M299.5,630 Q299,614 311,609" fill="none" stroke="#1a1a1a" stroke-width="2.2" stroke-linejoin="round" stroke-linecap="round"/>
<path d="M322,610 Q313,622 311,643" fill="none" stroke="#1a1a1a" stroke-width="1.3" stroke-linejoin="round" stroke-linecap="round"/>
<ellipse cx="326.0" cy="635.0" rx="7.0" ry="10.0" fill="#fff" stroke="#1a1a1a" stroke-width="1.5" transform="rotate(15 326.0 635.0)"/>
<line x1="325.0" y1="651.0" x2="324.0" y2="672.0" stroke="#1a1a1a" stroke-width="1.1"/>
<text x="324.0" y="683.3" font-size="9.2" text-anchor="middle" font-weight="bold" fill="#1a1a1a" stroke="#1a1a1a" stroke-width="0.35">37</text>
<polygon points="337.5,632.5 360.0,644.0 362.0,652.0 352.0,660.0 332.5,649.0" fill="#fff" stroke="none" stroke-width="0" stroke-linejoin="round" stroke-linecap="round"/>
<line x1="337.5" y1="632.5" x2="359.0" y2="643.5" stroke="#1a1a1a" stroke-width="1.6"/>
<line x1="332.5" y1="649.0" x2="351.0" y2="660.0" stroke="#1a1a1a" stroke-width="1.6"/>
<ellipse cx="355.0" cy="651.0" rx="6.5" ry="9.0" fill="#fff" stroke="#1a1a1a" stroke-width="1.7" transform="rotate(25 355.0 651.0)"/>
<ellipse cx="356.0" cy="651.5" rx="4.0" ry="6.0" fill="none" stroke="#1a1a1a" stroke-width="1.2" transform="rotate(25 356.0 651.5)"/>
<line x1="346.0" y1="661.0" x2="346.0" y2="686.0" stroke="#1a1a1a" stroke-width="1.1"/>
<text x="347.0" y="695.3" font-size="9.2" text-anchor="middle" font-weight="bold" fill="#1a1a1a" stroke="#1a1a1a" stroke-width="0.35">38</text>
<ellipse cx="366.0" cy="656.5" rx="8.5" ry="10.5" fill="#fff" stroke="#1a1a1a" stroke-width="1.7" transform="rotate(25 366.0 656.5)"/>
<ellipse cx="367.0" cy="657.0" rx="4.2" ry="6.0" fill="#fff" stroke="#1a1a1a" stroke-width="1.3" transform="rotate(25 367.0 657.0)"/>
<line x1="360.0" y1="666.0" x2="360.0" y2="694.0" stroke="#1a1a1a" stroke-width="1.1"/>
<text x="360.0" y="704.3" font-size="9.2" text-anchor="middle" font-weight="bold" fill="#1a1a1a" stroke="#1a1a1a" stroke-width="0.35">14</text>
<ellipse cx="379.5" cy="664.0" rx="6.5" ry="8.8" fill="#fff" stroke="#1a1a1a" stroke-width="1.7" transform="rotate(25 379.5 664.0)"/>
<ellipse cx="380.0" cy="664.0" rx="3.8" ry="5.6" fill="#fff" stroke="#1a1a1a" stroke-width="1.1" transform="rotate(25 380.0 664.0)"/>
<line x1="373.0" y1="672.0" x2="373.0" y2="702.0" stroke="#1a1a1a" stroke-width="1.1"/>
<text x="373.0" y="712.3" font-size="9.2" text-anchor="middle" font-weight="bold" fill="#1a1a1a" stroke="#1a1a1a" stroke-width="0.35">15</text>
<ellipse cx="394.5" cy="673.0" rx="5.5" ry="6.5" fill="#fff" stroke="#1a1a1a" stroke-width="3.2" transform="rotate(25 394.5 673.0)"/>
<circle cx="395.0" cy="673.0" r="1.8" fill="#1a1a1a"/>
<line x1="389.0" y1="680.0" x2="389.0" y2="711.0" stroke="#1a1a1a" stroke-width="1.1"/>
<text x="390.0" y="720.3" font-size="9.2" text-anchor="middle" font-weight="bold" fill="#1a1a1a" stroke="#1a1a1a" stroke-width="0.35">16</text>
<ellipse cx="410.0" cy="682.5" rx="13.0" ry="17.5" fill="#fff" stroke="#1a1a1a" stroke-width="1.6" transform="rotate(25 410.0 682.5)"/>
<ellipse cx="411.5" cy="683.0" rx="8.0" ry="12.0" fill="#fff" stroke="#1a1a1a" stroke-width="1.2" transform="rotate(25 411.5 683.0)"/>
<circle cx="415.3" cy="692.9" r="1.3" fill="#1a1a1a"/>
<circle cx="399.7" cy="692.0" r="1.3" fill="#1a1a1a"/>
<circle cx="405.3" cy="671.5" r="1.3" fill="#1a1a1a"/>
<circle cx="420.6" cy="673.6" r="1.3" fill="#1a1a1a"/>
<line x1="402.5" y1="700.0" x2="402.5" y2="719.0" stroke="#1a1a1a" stroke-width="1.1"/>
<text x="403.0" y="728.3" font-size="9.2" text-anchor="middle" font-weight="bold" fill="#1a1a1a" stroke="#1a1a1a" stroke-width="0.35">39</text>
<ellipse cx="428.0" cy="693.0" rx="13.0" ry="17.5" fill="#fff" stroke="#1a1a1a" stroke-width="1.6" transform="rotate(25 428.0 693.0)"/>
<ellipse cx="421.0" cy="704.5" rx="1.6" ry="2.4" fill="#222"/>
<ellipse cx="418.0" cy="699.4" rx="1.6" ry="2.4" fill="#222"/>
<ellipse cx="418.2" cy="692.3" rx="1.6" ry="2.4" fill="#222"/>
<ellipse cx="421.6" cy="685.4" rx="1.6" ry="2.4" fill="#222"/>
<ellipse cx="427.0" cy="681.0" rx="1.6" ry="2.4" fill="#222"/>
<ellipse cx="432.8" cy="680.4" rx="1.6" ry="2.4" fill="#222"/>
<ellipse cx="437.0" cy="683.9" rx="1.6" ry="2.4" fill="#222"/>
<line x1="417.0" y1="707.0" x2="417.0" y2="727.0" stroke="#1a1a1a" stroke-width="0.9" stroke-dasharray="2,1"/>
<text x="418.0" y="736.3" font-size="9.2" text-anchor="middle" font-weight="bold" fill="#1a1a1a" stroke="#1a1a1a" stroke-width="0.35">40</text>
<ellipse cx="449.0" cy="690.0" rx="3.8" ry="4.2" fill="#fff" stroke="#1a1a1a" stroke-width="2.0"/>
<circle cx="449.0" cy="690.0" r="1.2" fill="#1a1a1a"/>
<line x1="449.0" y1="660.0" x2="449.0" y2="684.0" stroke="#1a1a1a" stroke-width="0.9" stroke-dasharray="2,1"/>
<text x="450.0" y="659.3" font-size="9.2" text-anchor="middle" font-weight="bold" fill="#1a1a1a" stroke="#1a1a1a" stroke-width="0.35">41</text>
<line x1="455.0" y1="695.0" x2="472.0" y2="703.0" stroke="#1a1a1a" stroke-width="4.2"/>
<line x1="456.0" y1="695.0" x2="471.0" y2="702.5" stroke="#fff" stroke-width="2.0"/>
<ellipse cx="476.0" cy="705.0" rx="5.0" ry="5.5" fill="#fff" stroke="#1a1a1a" stroke-width="1.6"/>
<line x1="462.5" y1="670.0" x2="462.5" y2="698.0" stroke="#1a1a1a" stroke-width="1.0"/>
<text x="463.0" y="667.3" font-size="9.2" text-anchor="middle" font-weight="bold" fill="#1a1a1a" stroke="#1a1a1a" stroke-width="0.35">42</text>
<line x1="441.0" y1="694.0" x2="445.0" y2="692.0" stroke="#1a1a1a" stroke-width="0.8" stroke-dasharray="1.5,1.5"/>
<g opacity="0.6">
<text x="291" y="410" font-size="34" font-weight="bold" font-style="italic" fill="rgb(55,105,200)" stroke="rgb(55,105,200)" stroke-width="1.6" textLength="98" lengthAdjust="spacingAndGlyphs">Frida</text>
<text x="403" y="410" font-size="34" font-weight="bold" font-style="italic" fill="rgb(55,105,200)" stroke="rgb(55,105,200)" stroke-width="1.6" textLength="95" lengthAdjust="spacingAndGlyphs">Parts</text>
<path d="M375,399 L388,415 L411,384" fill="none" stroke="rgb(240,160,75)" stroke-width="7.5" stroke-linecap="butt" stroke-linejoin="miter"/>
<text x="500" y="391" font-size="8" fill="rgb(55,105,200)">®</text>
</g>
</svg></div></body></html>
